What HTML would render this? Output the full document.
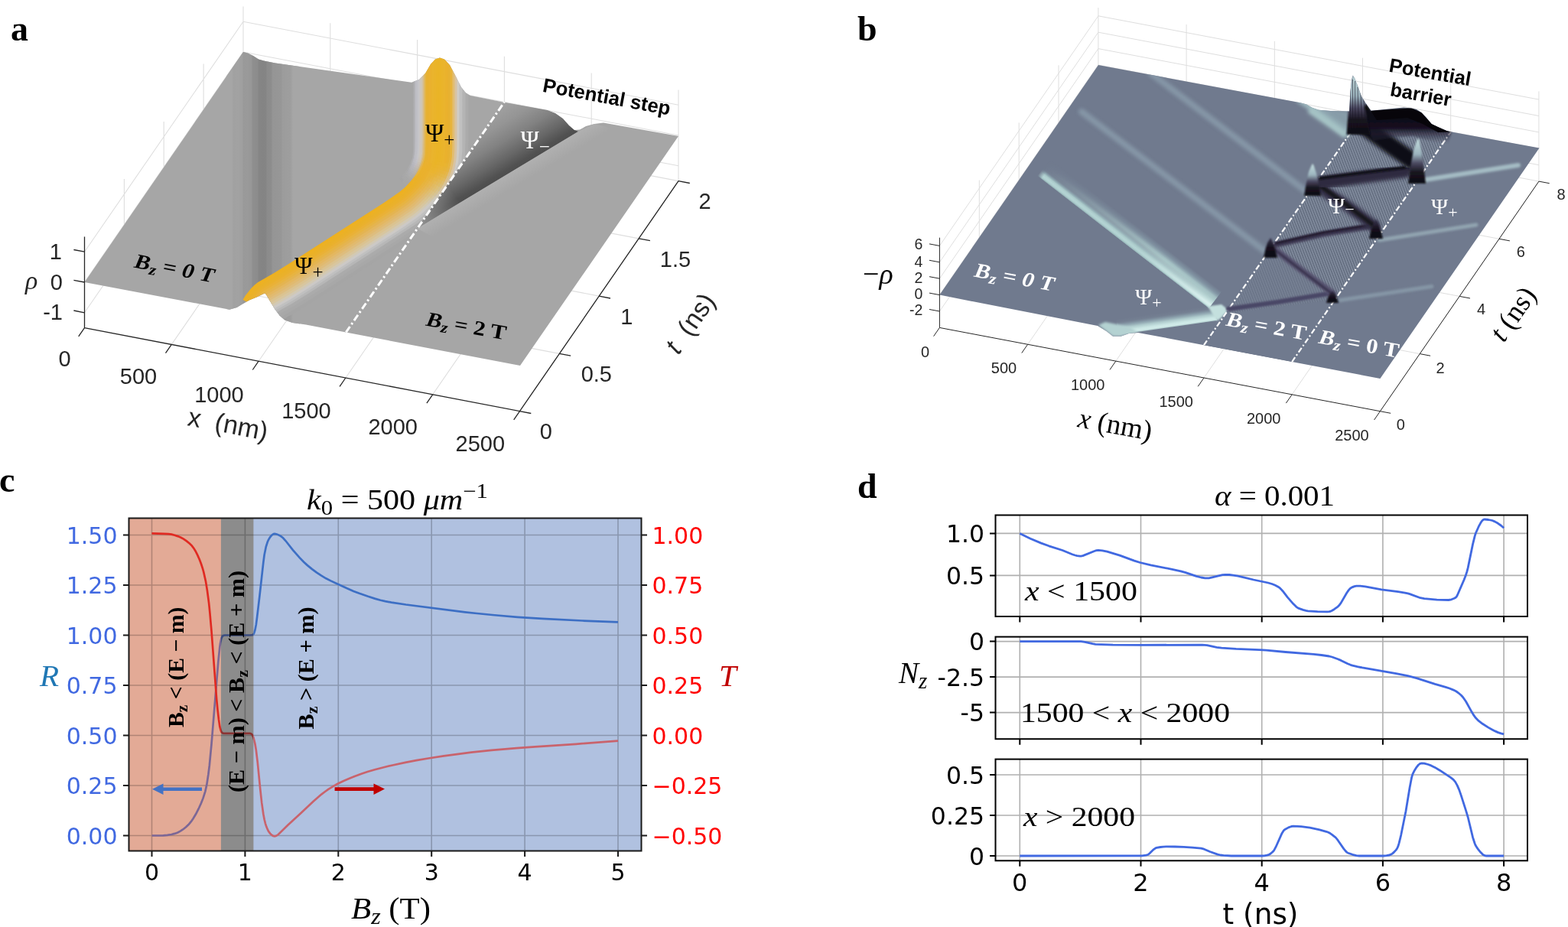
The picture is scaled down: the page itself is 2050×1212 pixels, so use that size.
<!DOCTYPE html>
<html><head><meta charset="utf-8"><title>Figure</title>
<style>html,body{margin:0;padding:0;background:#fff;}svg{display:block;}</style></head>
<body><svg xmlns="http://www.w3.org/2000/svg" width="2050" height="1212" viewBox="0 0 2050 1212">
<rect width="2050" height="1212" fill="#fff"/>
<path d="M318.0 127.6L318.0 8.4M431.8 149.4L431.8 30.2M545.6 171.2L545.6 52.0M659.4 193.0L659.4 73.8M773.2 214.8L773.2 95.6M887.0 236.6L887.0 117.4M318.0 107.8L887.0 216.8M318.0 68.0L887.0 177.0M318.0 28.2L887.0 137.2M162.4 353.4L162.4 234.1M214.2 278.1L214.2 158.9M266.1 202.9L266.1 83.6M110.5 408.8L318.0 107.8M110.5 369.0L318.0 68.0M110.5 329.2L318.0 28.2M224.3 450.4L431.8 149.4M338.1 472.2L545.6 171.2M451.9 494.0L659.4 193.0M565.7 515.8L773.2 214.8M679.5 537.6L887.0 236.6M162.4 353.4L731.4 462.4M214.2 278.1L783.2 387.1M266.1 202.9L835.1 311.9M318.0 127.6L887.0 236.6" stroke="#dedede" stroke-width="1.1" fill="none"/>
<clipPath id="aS"><path d="M318.0 68.0L324.0 69.5L331.0 73.0L338.0 77.5L345.0 79.5L360.0 82.5L538.0 107.8L548.0 104.0L556.0 96.0L563.0 84.0L569.0 77.5L575.0 75.6L581.0 77.5L588.0 85.0L596.0 100.0L603.0 114.0L609.0 121.5L615.0 125.0L660.0 134.0L715.6 144.0L726.0 148.0L736.0 155.0L744.0 164.0L751.0 170.0L758.0 169.5L766.0 165.0L777.0 162.0L789.0 160.6L887.0 178.0L680.0 478.0L400.0 424.6L382.3 422.0L372.4 418.6L365.8 412.7L359.2 404.1L352.6 392.9L348.5 386.0L346.3 383.3L342.7 385.0L336.1 388.3L326.2 392.2L317.0 397.5L309.7 402.1L300.0 404.8L110.5 369.0Z"/></clipPath>
<path d="M318.0 68.0L324.0 69.5L331.0 73.0L338.0 77.5L345.0 79.5L360.0 82.5L538.0 107.8L548.0 104.0L556.0 96.0L563.0 84.0L569.0 77.5L575.0 75.6L581.0 77.5L588.0 85.0L596.0 100.0L603.0 114.0L609.0 121.5L615.0 125.0L660.0 134.0L715.6 144.0L726.0 148.0L736.0 155.0L744.0 164.0L751.0 170.0L758.0 169.5L766.0 165.0L777.0 162.0L789.0 160.6L887.0 178.0L680.0 478.0L400.0 424.6L382.3 422.0L372.4 418.6L365.8 412.7L359.2 404.1L352.6 392.9L348.5 386.0L346.3 383.3L342.7 385.0L336.1 388.3L326.2 392.2L317.0 397.5L309.7 402.1L300.0 404.8L110.5 369.0Z" fill="#a6a6a6"/>
<g clip-path="url(#aS)">
<linearGradient id="aStr" gradientUnits="userSpaceOnUse" x1="296" y1="0" x2="392" y2="0"><stop offset="0.0000" stop-color="#a6a6a6"/><stop offset="0.0729" stop-color="#a6a6a6"/><stop offset="0.0938" stop-color="#a1a1a1"/><stop offset="0.1562" stop-color="#a2a2a2"/><stop offset="0.2188" stop-color="#9f9f9f"/><stop offset="0.2292" stop-color="#999999"/><stop offset="0.2812" stop-color="#9a9a9a"/><stop offset="0.3438" stop-color="#979797"/><stop offset="0.3542" stop-color="#8f8f8f"/><stop offset="0.4271" stop-color="#8c8c8c"/><stop offset="0.4375" stop-color="#868686"/><stop offset="0.4896" stop-color="#848484"/><stop offset="0.5417" stop-color="#858585"/><stop offset="0.5521" stop-color="#8b8b8b"/><stop offset="0.6146" stop-color="#8d8d8d"/><stop offset="0.6250" stop-color="#959595"/><stop offset="0.6875" stop-color="#969696"/><stop offset="0.7500" stop-color="#979797"/><stop offset="0.7604" stop-color="#9c9c9c"/><stop offset="0.8125" stop-color="#9d9d9d"/><stop offset="0.8750" stop-color="#9e9e9e"/><stop offset="0.9062" stop-color="#a6a6a6"/><stop offset="1.0000" stop-color="#a6a6a6"/></linearGradient>
<rect x="296" y="60" width="96" height="370" fill="url(#aStr)"/>
<linearGradient id="aDk" gradientUnits="userSpaceOnUse" x1="650" y1="236" x2="608.7" y2="167.2"><stop offset="0" stop-color="#4e4e4e"/><stop offset="0.07" stop-color="#515151"/><stop offset="0.25" stop-color="#676767"/><stop offset="0.5" stop-color="#828282"/><stop offset="0.75" stop-color="#959595"/><stop offset="1" stop-color="#a0a0a0"/></linearGradient>
<path d="M545.4 298.7L568.2 265.6L591.0 232.6L613.8 199.5L636.6 166.5L659.4 133.4L715.6 144.0L726.0 148.0L736.0 155.0L744.0 164.0L751.0 170.0L756.0 172.0L545.5 298.7Z" fill="url(#aDk)"/>
<linearGradient id="aDk3" gradientUnits="userSpaceOnUse" x1="548" y1="300" x2="600" y2="262"><stop offset="0" stop-color="#a0a0a0" stop-opacity="0.9"/><stop offset="1" stop-color="#a0a0a0" stop-opacity="0"/></linearGradient>
<path d="M545.4 298.7L568.2 265.6L591.0 232.6L613.8 199.5L636.6 166.5L659.4 133.4L715.6 144.0L726.0 148.0L736.0 155.0L744.0 164.0L751.0 170.0L756.0 172.0L545.5 298.7Z" fill="url(#aDk3)"/>
<linearGradient id="aRh" gradientUnits="userSpaceOnUse" x1="650" y1="236" x2="660" y2="252.6"><stop offset="0" stop-color="#b0b0b0"/><stop offset="1" stop-color="#a6a6a6"/></linearGradient>
<path d="M545.5 298.7L756 172L777 162L800 168L570 312Z" fill="url(#aRh)"/>
<clipPath id="aL"><path d="M0 0L721.6 43.1 L400.0 509.6 L0 600Z"/></clipPath>
<g clip-path="url(#aL)">
<path d="M522.0 233.3L525.7 229.4L527.9 231.4L524.1 235.3Z" fill="#a5a5a5"/>
<path d="M523.9 231.3L527.5 227.5L529.7 229.3L526.0 233.4Z" fill="#a5a5a8"/>
<path d="M525.7 229.4L533.2 219.7L535.7 221.2L531.4 227.4L527.9 231.4Z" fill="#a8a8a8"/>
<path d="M532.0 221.6L534.4 217.6L536.9 219.0L534.4 223.2Z" fill="#a8a8ab"/>
<path d="M533.2 219.7L535.5 215.5L538.1 216.7L535.7 221.2Z" fill="#ababab"/>
<path d="M534.4 217.6L537.6 210.9L540.3 212.0L536.9 219.0Z" fill="#ababae"/>
<path d="M536.6 213.2L538.4 208.8L541.1 209.7L539.2 214.4Z" fill="#aeaeae"/>
<path d="M537.6 210.9L539.5 204.8L540.3 195.2L540.5 60.0L543.4 60.0L543.2 195.3L542.3 205.4L540.3 212.0Z" fill="#aeaeb1"/>
<path d="M523.4 234.7L527.2 230.8L529.4 232.7L525.5 236.7Z" fill="#a5a5a5"/>
<path d="M525.4 232.7L530.7 226.8L532.9 228.6L527.5 234.7Z" fill="#a8a8a8"/>
<path d="M529.0 228.8L532.2 224.7L534.5 226.5L531.2 230.7Z" fill="#a8a8ab"/>
<path d="M530.7 226.8L533.7 222.7L536.1 224.4L532.9 228.6Z" fill="#ababab"/>
<path d="M532.2 224.7L534.9 220.8L537.4 222.2L534.5 226.5Z" fill="#ababae"/>
<path d="M533.7 222.7L536.2 218.6L538.7 220.0L536.1 224.4Z" fill="#aeaeb1"/>
<path d="M534.9 220.8L537.3 216.3L539.9 217.6L537.4 222.2Z" fill="#b1b1b4"/>
<path d="M536.2 218.6L538.4 214.0L541.1 215.2L538.7 220.0Z" fill="#b4b4b7"/>
<path d="M537.3 216.3L539.4 211.6L542.1 212.7L539.9 217.6Z" fill="#b4b4ba"/>
<path d="M538.4 214.0L540.3 209.4L543.0 210.4L541.1 215.2Z" fill="#b7b7bd"/>
<path d="M539.4 211.6L540.9 207.3L543.7 208.1L542.1 212.7Z" fill="#babac0"/>
<path d="M540.3 209.4L541.8 202.9L544.7 203.3L543.0 210.4Z" fill="#babac3"/>
<path d="M541.4 205.2L542.2 197.9L542.5 183.4L542.5 60.0L545.4 60.0L545.4 183.4L545.1 198.1L544.3 205.7Z" fill="#bdbdc3"/>
<path d="M524.8 236.1L528.7 232.1L530.8 234.1L526.9 238.2Z" fill="#a5a5a8"/>
<path d="M526.8 234.1L532.2 228.0L534.5 229.9L528.9 236.1Z" fill="#a8a8a8"/>
<path d="M530.5 230.1L533.8 225.9L536.2 227.7L532.7 232.0Z" fill="#ababab"/>
<path d="M532.2 228.0L535.3 223.9L537.7 225.5L534.5 229.9Z" fill="#ababae"/>
<path d="M533.8 225.9L536.6 221.8L539.1 223.3L536.2 227.7Z" fill="#aeaeb1"/>
<path d="M535.3 223.9L537.9 219.5L540.5 220.9L537.7 225.5Z" fill="#b1b1b4"/>
<path d="M536.6 221.8L539.1 217.2L541.7 218.5L539.1 223.3Z" fill="#b4b4b7"/>
<path d="M537.9 219.5L540.2 214.8L542.9 216.0L540.5 220.9Z" fill="#b7b4ba"/>
<path d="M539.1 217.2L541.3 212.4L544.0 213.5L541.7 218.5Z" fill="#b7b7bd"/>
<path d="M540.2 214.8L542.2 210.1L544.9 211.0L542.9 216.0Z" fill="#babac0"/>
<path d="M541.3 212.4L542.9 207.8L545.7 208.6L544.0 213.5Z" fill="#bdbdc3"/>
<path d="M542.2 210.1L543.4 205.6L546.2 206.1L544.9 211.0Z" fill="#c0bdc3"/>
<path d="M542.9 207.8L544.1 200.7L544.4 189.4L544.5 60.0L547.4 60.0L547.3 189.4L546.9 200.9L545.7 208.6Z" fill="#c0c0c6"/>
<path d="M526.3 237.5L533.8 229.3L536.0 231.1L528.3 239.6Z" fill="#a8a8a8"/>
<path d="M532.0 231.4L535.4 227.1L537.8 228.9L534.2 233.3Z" fill="#ababab"/>
<path d="M533.8 229.3L537.0 225.0L539.4 226.6L536.0 231.1Z" fill="#aeaeae"/>
<path d="M535.4 227.1L538.4 222.8L540.8 224.3L537.8 228.9Z" fill="#aeaeb1"/>
<path d="M537.0 225.0L539.7 220.5L542.2 221.9L539.4 226.6Z" fill="#b1b1b4"/>
<path d="M538.4 222.8L540.9 218.1L543.5 219.4L540.8 224.3Z" fill="#b4b4b7"/>
<path d="M539.7 220.5L542.1 215.6L544.7 216.8L542.2 221.9Z" fill="#b7b7ba"/>
<path d="M540.9 218.1L543.1 213.1L545.8 214.2L543.5 219.4Z" fill="#bdbabd"/>
<path d="M542.1 215.6L544.1 210.7L546.8 211.7L544.7 216.8Z" fill="#c0bdc3"/>
<path d="M543.1 213.1L544.8 208.3L547.6 209.1L545.8 214.2Z" fill="#c0c0c6"/>
<path d="M544.1 210.7L545.3 206.0L548.2 206.5L546.8 211.7Z" fill="#c3c3c6"/>
<path d="M544.8 208.3L545.8 203.5L548.6 203.8L547.6 209.1Z" fill="#c6c3c9"/>
<path d="M545.3 206.0L546.2 198.1L546.5 183.4L546.5 60.0L549.4 60.0L549.4 183.5L549.1 198.3L548.2 206.5Z" fill="#c6c6c9"/>
<path d="M527.7 238.9L531.6 234.8L533.8 236.8L529.7 241.0Z" fill="#a8a8a5"/>
<path d="M529.7 236.9L535.3 230.5L537.6 232.4L531.8 238.9Z" fill="#a8a8a8"/>
<path d="M533.5 232.7L537.0 228.3L539.4 230.0L535.7 234.6Z" fill="#ababab"/>
<path d="M535.3 230.5L538.7 226.1L541.1 227.7L537.6 232.4Z" fill="#aeaeab"/>
<path d="M537.0 228.3L540.1 223.8L542.6 225.3L539.4 230.0Z" fill="#b1aeae"/>
<path d="M538.7 226.1L541.4 221.5L544.0 222.8L541.1 227.7Z" fill="#b4b1b1"/>
<path d="M540.1 223.8L542.7 219.0L545.3 220.3L542.6 225.3Z" fill="#b7b4b1"/>
<path d="M541.4 221.5L543.9 216.4L546.5 217.6L544.0 222.8Z" fill="#bab7b4"/>
<path d="M542.7 219.0L545.0 213.9L547.7 215.0L545.3 220.3Z" fill="#c0bab7"/>
<path d="M543.9 216.4L545.9 211.4L548.7 212.3L546.5 217.6Z" fill="#c3bdba"/>
<path d="M545.0 213.9L546.7 208.9L549.5 209.6L547.7 215.0Z" fill="#c6c0ba"/>
<path d="M545.9 211.4L547.7 203.7L550.6 204.1L548.7 212.3Z" fill="#c9c3bd"/>
<path d="M547.3 206.3L548.0 201.0L550.9 201.3L550.2 206.9Z" fill="#c9c6c0"/>
<path d="M547.7 203.7L548.5 183.4L548.5 60.0L551.4 60.0L551.4 183.5L550.6 204.1Z" fill="#ccc6c0"/>
<path d="M529.1 240.4L533.1 236.2L535.3 238.1L531.1 242.4Z" fill="#a8a8a5"/>
<path d="M531.1 238.3L535.0 234.0L537.2 235.9L533.2 240.3Z" fill="#a8a8a8"/>
<path d="M533.1 236.2L536.9 231.8L539.2 233.6L535.3 238.1Z" fill="#aba8a8"/>
<path d="M535.0 234.0L538.6 229.5L541.0 231.2L537.2 235.9Z" fill="#ababa8"/>
<path d="M536.9 231.8L540.3 227.2L542.7 228.9L539.2 233.6Z" fill="#aeaea8"/>
<path d="M538.6 229.5L541.8 224.9L544.3 226.4L541.0 231.2Z" fill="#b1aeab"/>
<path d="M540.3 227.2L543.2 222.4L545.7 223.8L542.7 228.9Z" fill="#b7b1ab"/>
<path d="M541.8 224.9L544.5 219.9L547.1 221.1L544.3 226.4Z" fill="#bab4ae"/>
<path d="M543.2 222.4L545.7 217.3L548.4 218.5L545.7 223.8Z" fill="#bdb7ae"/>
<path d="M544.5 219.9L546.8 214.6L549.5 215.7L547.1 221.1Z" fill="#c3baae"/>
<path d="M545.7 217.3L547.8 212.0L550.6 213.0L548.4 218.5Z" fill="#c6bdb1"/>
<path d="M546.8 214.6L548.7 209.4L551.5 210.2L549.5 215.7Z" fill="#c9c0b1"/>
<path d="M547.8 212.0L549.3 206.7L552.1 207.3L550.6 213.0Z" fill="#ccc3b4"/>
<path d="M548.7 209.4L549.7 204.0L552.6 204.4L551.5 210.2Z" fill="#cfc3b4"/>
<path d="M549.3 206.7L550.2 198.3L550.5 183.5L550.5 60.0L553.4 60.0L553.4 183.5L553.1 198.5L552.1 207.3Z" fill="#cfc6b4"/>
<path d="M530.5 241.8L534.6 237.5L536.4 239.1L532.2 243.5Z" fill="#a8a5a5"/>
<path d="M532.6 239.7L536.6 235.3L538.4 236.9L534.3 241.3Z" fill="#a8a8a5"/>
<path d="M534.6 237.5L538.5 233.0L540.3 234.5L536.4 239.1Z" fill="#aba8a5"/>
<path d="M536.6 235.3L540.2 230.7L542.2 232.1L538.4 236.9Z" fill="#aea8a2"/>
<path d="M538.5 233.0L542.0 228.3L543.9 229.7L540.3 234.5Z" fill="#b1aba2"/>
<path d="M540.2 230.7L543.5 225.9L545.6 227.1L542.2 232.1Z" fill="#b4ae9f"/>
<path d="M542.0 228.3L545.0 223.4L547.1 224.5L543.9 229.7Z" fill="#baae9c"/>
<path d="M543.5 225.9L546.3 220.7L548.4 221.8L545.6 227.1Z" fill="#bdb199"/>
<path d="M545.0 223.4L547.5 218.1L549.7 219.1L547.1 224.5Z" fill="#c3b496"/>
<path d="M546.3 220.7L548.7 215.4L550.9 216.3L548.4 221.8Z" fill="#c6b796"/>
<path d="M547.5 218.1L549.7 212.7L552.0 213.4L549.7 219.1Z" fill="#ccb793"/>
<path d="M548.7 215.4L550.6 209.9L552.9 210.5L550.9 216.3Z" fill="#cfba90"/>
<path d="M549.7 212.7L551.2 207.1L553.6 207.6L552.0 213.4Z" fill="#d2bd8d"/>
<path d="M550.6 209.9L552.0 201.4L554.4 201.6L552.9 210.5Z" fill="#d5bd8d"/>
<path d="M551.7 204.3L552.2 198.4L552.5 183.5L552.5 60.0L554.9 60.0L554.9 183.5L554.6 198.6L554.1 204.6Z" fill="#d8bd8d"/>
<path d="M317.6 391.7L320.8 386.6L328.3 377.1L332.6 372.8L337.3 369.0L358.2 356.9L378.7 344.3L502.8 264.5L522.6 250.8L529.4 244.9L535.7 238.5L537.1 239.8L530.7 246.3L523.8 252.3L503.9 266.1L379.7 345.9L359.2 358.5L338.4 370.6L333.8 374.2L329.7 378.4L322.4 387.7L319.2 392.7Z" fill="#edb121"/>
<path d="M533.7 240.7L537.7 236.3L539.1 237.5L535.0 242.0Z" fill="#edb124"/>
<path d="M535.7 238.5L539.6 234.0L541.1 235.2L537.1 239.8Z" fill="#eab127"/>
<path d="M537.7 236.3L541.4 231.6L543.0 232.7L539.1 237.5Z" fill="#eab12d"/>
<path d="M539.6 234.0L543.2 229.2L544.8 230.3L541.1 235.2Z" fill="#eab430"/>
<path d="M541.4 231.6L544.8 226.7L546.4 227.6L543.0 232.7Z" fill="#e7b436"/>
<path d="M543.2 229.2L546.3 224.1L547.9 225.0L544.8 230.3Z" fill="#e7b43f"/>
<path d="M544.8 226.7L547.6 221.4L549.3 222.2L546.4 227.6Z" fill="#e4b445"/>
<path d="M546.3 224.1L548.9 218.7L550.6 219.5L547.9 225.0Z" fill="#e4b74e"/>
<path d="M547.6 221.4L550.1 215.9L551.9 216.7L549.3 222.2Z" fill="#e1b757"/>
<path d="M548.9 218.7L551.1 213.2L552.9 213.8L550.6 219.5Z" fill="#e1b75d"/>
<path d="M550.1 215.9L552.0 210.3L553.9 210.8L551.9 216.7Z" fill="#deb763"/>
<path d="M551.1 213.2L552.7 207.4L554.6 207.8L552.9 213.8Z" fill="#deb769"/>
<path d="M552.0 210.3L553.2 204.5L555.1 204.7L553.9 210.8Z" fill="#deba6f"/>
<path d="M552.7 207.4L553.7 198.5L554.0 183.5L554.0 60.0L555.9 60.0L555.9 183.5L555.6 198.6L554.6 207.8Z" fill="#dbba6f"/>
<path d="M318.4 392.3L321.6 387.2L329.0 377.8L333.2 373.5L337.9 369.8L358.7 357.8L379.2 345.1L503.4 265.3L520.9 253.5L527.9 247.7L534.4 241.4L536.1 243.1L529.5 249.5L522.3 255.4L504.7 267.3L380.5 347.2L359.9 359.8L339.2 371.8L334.8 375.3L330.9 379.3L323.6 388.6L320.5 393.5Z" fill="#edb121"/>
<path d="M532.3 243.5L538.5 236.9L540.3 238.5L533.9 245.2Z" fill="#edb124"/>
<path d="M536.4 239.2L540.4 234.6L542.3 236.1L538.2 240.8Z" fill="#edb127"/>
<path d="M538.5 236.9L542.2 232.2L544.2 233.6L540.3 238.5Z" fill="#eab12a"/>
<path d="M540.4 234.6L544.0 229.8L546.0 231.1L542.3 236.1Z" fill="#eab12d"/>
<path d="M542.2 232.2L545.7 227.2L547.7 228.4L544.2 233.6Z" fill="#eab130"/>
<path d="M544.0 229.8L547.2 224.5L549.3 225.7L546.0 231.1Z" fill="#e7b436"/>
<path d="M545.7 227.2L548.5 221.8L550.7 222.9L547.7 228.4Z" fill="#e7b43c"/>
<path d="M547.2 224.5L549.8 219.1L552.0 220.1L549.3 225.7Z" fill="#e7b43f"/>
<path d="M548.5 221.8L551.0 216.3L553.2 217.2L550.7 222.9Z" fill="#e4b445"/>
<path d="M549.8 219.1L552.1 213.5L554.4 214.3L552.0 220.1Z" fill="#e4b44b"/>
<path d="M551.0 216.3L553.0 210.6L555.3 211.2L553.2 217.2Z" fill="#e4b44e"/>
<path d="M552.1 213.5L553.7 207.6L556.0 208.1L554.4 214.3Z" fill="#e1b751"/>
<path d="M553.0 210.6L554.2 204.6L556.6 204.9L555.3 211.2Z" fill="#e1b754"/>
<path d="M553.7 207.6L554.7 198.6L555.0 183.5L555.0 60.0L557.4 60.0L557.3 189.5L556.9 201.8L556.0 208.1Z" fill="#e1b757"/>
<path d="M319.7 393.0L322.9 388.1L330.2 378.8L334.2 374.6L338.7 371.1L359.5 359.1L380.0 346.4L511.8 261.6L526.6 250.9L535.5 242.4L541.6 235.5L543.8 237.4L537.5 244.4L528.4 253.1L513.4 264.0L381.6 348.9L360.9 361.6L340.3 373.5L336.2 376.8L332.4 380.7L325.2 389.8L322.2 394.5Z" fill="#edb124"/>
<path d="M539.6 237.9L543.4 233.1L545.8 234.8L541.8 239.8Z" fill="#edb127"/>
<path d="M541.6 235.5L546.9 228.0L549.4 229.4L543.8 237.4Z" fill="#eab127"/>
<path d="M545.3 230.6L549.9 222.5L552.5 223.8L547.7 232.2Z" fill="#eab12a"/>
<path d="M548.5 225.3L552.4 216.9L555.1 218.0L551.0 226.6Z" fill="#eab12d"/>
<path d="M551.2 219.7L554.4 211.0L557.2 211.7L553.8 220.9Z" fill="#eab130"/>
<path d="M553.5 214.0L555.2 207.9L558.0 208.5L556.3 214.9Z" fill="#e7b130"/>
<path d="M554.4 211.0L556.0 201.7L556.4 189.5L556.5 60.0L559.4 60.0L559.3 189.6L558.9 202.0L557.2 211.7Z" fill="#e7b133"/>
<path d="M321.4 394.1L324.5 389.3L331.7 380.1L335.6 376.1L339.8 372.7L360.5 360.8L381.1 348.1L512.9 263.3L523.0 256.3L530.2 250.3L539.0 241.6L545.0 234.3L547.4 236.0L541.2 243.5L532.2 252.5L524.7 258.6L514.5 265.7L382.7 350.5L361.9 363.3L341.4 375.1L333.9 382.0L326.9 390.9L323.9 395.6Z" fill="#eab127"/>
<path d="M543.1 236.8L546.9 231.7L550.2 226.2L552.8 227.6L549.3 233.3L545.4 238.6Z" fill="#eab12a"/>
<path d="M548.7 229.0L551.7 223.4L555.4 214.6L558.1 215.6L554.3 224.7L551.1 230.5Z" fill="#eab12d"/>
<path d="M554.3 217.6L557.1 208.3L560.0 208.8L557.0 218.7Z" fill="#eab130"/>
<path d="M556.4 211.5L558.0 201.9L558.4 189.6L558.5 60.0L561.4 60.0L561.3 189.6L560.9 202.2L559.2 212.3Z" fill="#e7b130"/>
<path d="M323.1 395.1L326.1 390.4L333.2 381.4L336.9 377.6L340.9 374.4L361.5 362.5L382.2 349.8L496.3 276.5L524.2 257.9L531.5 251.8L540.5 242.9L544.7 238.0L550.4 230.0L552.9 231.5L549.0 237.2L542.7 244.9L533.5 253.9L525.9 260.2L497.9 279.0L383.7 352.2L363.0 365.0L342.5 376.8L335.4 383.3L328.5 392.1L325.6 396.6Z" fill="#eab12a"/>
<path d="M548.6 232.8L554.8 221.4L558.3 212.0L561.1 212.8L557.5 222.5L551.0 234.5Z" fill="#eab12d"/>
<path d="M557.3 215.3L559.6 205.4L560.3 195.7L560.5 60.0L563.4 60.0L563.2 195.8L562.5 205.8L560.0 216.2Z" fill="#eab130"/>
<path d="M324.9 396.1L327.8 391.6L334.7 382.7L342.0 376.1L362.5 364.2L383.3 351.5L520.2 263.2L527.9 257.5L535.2 251.1L544.1 241.8L550.2 234.0L555.3 225.2L559.2 215.9L561.0 209.1L562.0 202.3L562.5 177.5L562.5 60.0L565.4 60.0L565.4 180.5L564.9 202.5L563.9 209.6L561.9 216.9L557.9 226.4L552.6 235.6L548.5 241.1L541.9 248.6L534.8 255.4L527.1 261.8L498.9 280.6L384.8 353.9L364.0 366.7L343.6 378.5L336.9 384.6L330.1 393.3L327.3 397.6Z" fill="#eab12d"/>
<path d="M326.6 397.1L329.4 392.7L336.2 384.0L343.1 377.7L363.5 366.0L384.3 353.2L516.2 268.3L526.6 261.1L531.7 257.0L539.0 250.3L545.6 243.1L548.6 245.7L541.7 253.0L534.3 259.9L528.9 264.2L518.4 271.5L386.4 356.5L365.5 369.3L345.3 381.0L339.2 386.6L332.6 395.0L329.9 399.2Z" fill="#eab136"/>
<path d="M543.5 245.6L549.9 237.9L553.8 232.1L557.1 234.1L553.0 240.2L546.3 248.2Z" fill="#eab133"/>
<path d="M551.9 235.1L555.5 229.1L559.8 219.9L563.4 221.3L558.9 230.9L555.1 237.3Z" fill="#eab130"/>
<path d="M558.5 223.0L561.1 216.6L563.0 209.5L566.8 210.2L564.8 217.8L562.0 224.6Z" fill="#eab12d"/>
<path d="M562.2 213.1L564.0 202.4L564.4 189.6L564.5 60.0L568.4 60.0L568.3 192.8L567.9 202.8L565.9 214.1Z" fill="#eab42d"/>
<path d="M329.1 398.7L331.8 394.5L338.5 386.0L344.8 380.2L365.0 368.6L385.9 355.7L517.9 270.7L528.4 263.5L533.7 259.2L543.4 250.1L550.2 242.4L553.2 244.9L546.2 252.8L536.2 262.2L530.7 266.6L520.0 274.0L388.0 359.0L367.0 371.9L346.9 383.5L341.4 388.5L335.0 396.8L332.5 400.7Z" fill="#e7b442"/>
<path d="M547.9 245.1L554.4 236.8L557.6 239.0L550.9 247.6Z" fill="#e7b43f"/>
<path d="M552.3 239.7L556.4 233.6L559.7 235.6L555.4 242.0Z" fill="#e7b43c"/>
<path d="M554.4 236.8L558.1 230.5L561.6 232.3L557.6 239.0Z" fill="#e7b439"/>
<path d="M556.4 233.6L559.8 227.4L563.3 229.1L559.7 235.6Z" fill="#eab436"/>
<path d="M558.1 230.5L562.6 221.0L566.2 222.5L561.6 232.3Z" fill="#eab433"/>
<path d="M561.2 224.2L563.9 217.6L567.6 218.8L564.8 225.8Z" fill="#eab430"/>
<path d="M562.6 221.0L565.1 213.8L568.8 214.9L566.2 222.5Z" fill="#eab42d"/>
<path d="M563.9 217.6L566.6 206.3L567.3 195.9L567.5 60.0L571.4 60.0L571.2 196.0L570.4 206.8L567.6 218.8Z" fill="#eab42a"/>
<path d="M331.7 400.2L334.3 396.2L340.7 387.9L346.4 382.7L366.5 371.1L387.5 358.2L519.5 273.2L530.2 265.9L535.6 261.5L547.9 249.6L550.8 252.3L538.2 264.5L532.5 269.0L521.7 276.5L389.6 361.5L368.5 374.5L348.6 386.0L343.7 390.5L337.4 398.5L335.1 402.2Z" fill="#e4b451"/>
<path d="M545.5 252.1L550.2 247.1L553.1 249.6L548.4 254.8Z" fill="#e4b44e"/>
<path d="M547.9 249.6L552.5 244.3L555.5 246.7L550.8 252.3Z" fill="#e7b44e"/>
<path d="M550.2 247.1L554.7 241.5L557.8 243.8L553.1 249.6Z" fill="#e7b44b"/>
<path d="M552.5 244.3L556.9 238.5L560.1 240.6L555.5 246.7Z" fill="#e7b448"/>
<path d="M554.7 241.5L558.9 235.1L562.3 237.2L557.8 243.8Z" fill="#e7b445"/>
<path d="M556.9 238.5L560.8 231.9L564.2 233.8L560.1 240.6Z" fill="#e7b442"/>
<path d="M558.9 235.1L562.4 228.7L565.9 230.4L562.3 237.2Z" fill="#e7b43c"/>
<path d="M560.8 231.9L564.0 225.5L567.5 227.1L564.2 233.8Z" fill="#e7b439"/>
<path d="M562.4 228.7L565.4 222.1L569.0 223.6L565.9 230.4Z" fill="#eab436"/>
<path d="M564.0 225.5L566.7 218.5L570.4 219.8L567.5 227.1Z" fill="#eab430"/>
<path d="M565.4 222.1L568.0 214.6L571.7 215.7L569.0 223.6Z" fill="#eab42d"/>
<path d="M566.7 218.5L568.9 210.6L572.7 211.4L570.4 219.8Z" fill="#eab42a"/>
<path d="M568.0 214.6L569.9 203.0L570.4 192.8L570.5 60.0L574.4 60.0L574.3 192.9L573.4 207.2L571.7 215.7Z" fill="#eab427"/>
<path d="M334.3 401.8L336.7 398.0L343.0 389.9L348.1 385.2L368.1 373.7L389.1 360.8L513.5 280.8L532.0 268.3L540.3 261.4L547.7 254.2L550.5 256.9L542.9 264.3L534.3 271.4L515.7 284.1L391.2 364.1L370.0 377.1L350.2 388.5L345.9 392.5L337.6 403.8Z" fill="#e4b760"/>
<path d="M545.3 256.7L552.5 249.0L555.4 251.6L548.1 259.4Z" fill="#e4b75d"/>
<path d="M550.1 251.7L554.8 246.2L557.9 248.6L553.0 254.3Z" fill="#e4b75a"/>
<path d="M552.5 249.0L557.1 243.3L560.2 245.6L555.4 251.6Z" fill="#e4b757"/>
<path d="M554.8 246.2L559.3 240.1L562.6 242.3L557.9 248.6Z" fill="#e4b754"/>
<path d="M557.1 243.3L561.5 236.7L564.9 238.7L560.2 245.6Z" fill="#e4b74e"/>
<path d="M559.3 240.1L563.4 233.3L566.9 235.2L562.6 242.3Z" fill="#e7b74b"/>
<path d="M561.5 236.7L565.1 230.0L568.6 231.7L564.9 238.7Z" fill="#e7b445"/>
<path d="M563.4 233.3L566.7 226.7L570.3 228.3L566.9 235.2Z" fill="#e7b43f"/>
<path d="M565.1 230.0L568.2 223.2L571.8 224.7L568.6 231.7Z" fill="#e7b439"/>
<path d="M566.7 226.7L569.6 219.5L573.3 220.8L570.3 228.3Z" fill="#eab433"/>
<path d="M568.2 223.2L570.9 215.4L574.6 216.4L571.8 224.7Z" fill="#eab430"/>
<path d="M569.6 219.5L571.8 211.2L575.7 212.0L573.3 220.8Z" fill="#eab42d"/>
<path d="M570.9 215.4L572.5 207.1L576.4 207.7L574.6 216.4Z" fill="#eab42a"/>
<path d="M571.8 211.2L572.9 203.2L573.4 189.7L573.5 60.0L577.4 60.0L577.3 189.8L576.8 203.6L575.7 212.0Z" fill="#eab427"/>
<path d="M336.9 403.3L345.3 391.9L349.7 387.7L369.6 376.3L390.7 363.3L515.2 283.3L533.8 270.7L542.3 263.7L549.9 256.3L552.7 259.0L544.9 266.6L536.1 273.8L517.3 286.6L392.8 366.6L371.5 379.7L351.9 391.0L348.2 394.4L340.2 405.3Z" fill="#e1ba6f"/>
<path d="M547.4 258.8L554.7 251.0L557.7 253.5L550.2 261.5Z" fill="#e1ba6c"/>
<path d="M552.3 253.7L557.2 248.1L560.2 250.5L555.2 256.3Z" fill="#e1ba69"/>
<path d="M554.7 251.0L559.5 245.1L562.6 247.4L557.7 253.5Z" fill="#e1ba63"/>
<path d="M557.2 248.1L561.8 241.8L565.0 244.0L560.2 250.5Z" fill="#e1b760"/>
<path d="M559.5 245.1L564.1 238.2L567.4 240.2L562.6 247.4Z" fill="#e4b75a"/>
<path d="M561.8 241.8L566.1 234.8L569.5 236.6L565.0 244.0Z" fill="#e4b754"/>
<path d="M564.1 238.2L567.8 231.3L571.3 233.0L567.4 240.2Z" fill="#e4b74e"/>
<path d="M566.1 234.8L569.4 227.9L573.0 229.5L569.5 236.6Z" fill="#e7b748"/>
<path d="M567.8 231.3L571.0 224.4L574.6 225.8L571.3 233.0Z" fill="#e7b43f"/>
<path d="M569.4 227.9L572.4 220.5L576.1 221.8L573.0 229.5Z" fill="#e7b439"/>
<path d="M571.0 224.4L573.7 216.2L577.5 217.2L574.6 225.8Z" fill="#eab433"/>
<path d="M572.4 220.5L574.8 211.8L578.6 212.5L576.1 221.8Z" fill="#eab430"/>
<path d="M573.7 216.2L575.5 207.5L579.3 208.1L577.5 217.2Z" fill="#eab42d"/>
<path d="M574.8 211.8L575.9 203.5L576.4 189.8L576.5 60.0L580.4 60.0L580.3 189.8L579.8 203.8L578.6 212.5Z" fill="#eab42a"/>
<path d="M339.4 404.9L347.5 393.9L351.4 390.2L371.1 378.9L392.4 365.8L524.5 280.7L535.6 273.1L541.5 268.4L554.5 255.7L557.4 258.3L544.0 271.4L537.9 276.2L526.7 284.0L394.4 369.1L373.1 382.3L353.6 393.5L350.5 396.4L342.8 406.9Z" fill="#debd7e"/>
<path d="M552.0 258.4L557.0 252.9L559.9 255.5L554.8 261.1Z" fill="#debd7b"/>
<path d="M554.5 255.7L559.5 249.9L562.6 252.4L557.4 258.3Z" fill="#debd78"/>
<path d="M557.0 252.9L561.9 246.9L565.0 249.2L559.9 255.5Z" fill="#debd72"/>
<path d="M559.5 249.9L564.3 243.5L567.5 245.7L562.6 252.4Z" fill="#e1bd6c"/>
<path d="M561.9 246.9L566.7 239.8L570.0 241.8L565.0 249.2Z" fill="#e1ba66"/>
<path d="M564.3 243.5L568.7 236.2L572.1 238.1L567.5 245.7Z" fill="#e1ba60"/>
<path d="M566.7 239.8L570.5 232.6L574.0 234.4L570.0 241.8Z" fill="#e4ba57"/>
<path d="M568.7 236.2L572.2 229.1L575.7 230.7L572.1 238.1Z" fill="#e4b74e"/>
<path d="M570.5 232.6L573.7 225.5L577.4 226.9L574.0 234.4Z" fill="#e7b748"/>
<path d="M572.2 229.1L575.3 221.5L578.9 222.7L575.7 230.7Z" fill="#e7b43f"/>
<path d="M573.7 225.5L576.6 217.0L580.4 218.0L577.4 226.9Z" fill="#e7b439"/>
<path d="M575.3 221.5L577.7 212.4L581.5 213.1L578.9 222.7Z" fill="#eab433"/>
<path d="M576.6 217.0L578.4 207.9L579.3 196.2L579.5 60.0L583.4 60.0L583.2 196.3L582.3 208.5L580.4 218.0Z" fill="#eab42d"/>
<path d="M342.0 406.4L349.8 395.8L353.1 392.7L372.6 381.5L394.0 368.4L518.5 288.3L537.4 275.5L546.3 268.1L554.2 260.5L557.0 263.2L548.9 271.0L539.7 278.6L520.6 291.6L396.0 371.7L374.6 384.9L355.2 396.0L352.7 398.4L345.4 408.4Z" fill="#dbc390"/>
<path d="M551.7 263.0L556.8 257.7L559.6 260.4L554.4 265.8Z" fill="#dbc38d"/>
<path d="M554.2 260.5L559.3 254.9L562.2 257.4L557.0 263.2Z" fill="#dbc38a"/>
<path d="M556.8 257.7L561.9 251.8L564.9 254.3L559.6 260.4Z" fill="#dbc087"/>
<path d="M559.3 254.9L564.3 248.7L567.4 251.0L562.2 257.4Z" fill="#dbc081"/>
<path d="M561.9 251.8L566.8 245.2L570.0 247.4L564.9 254.3Z" fill="#dec07b"/>
<path d="M564.3 248.7L569.2 241.3L572.6 243.3L567.4 251.0Z" fill="#debd72"/>
<path d="M566.8 245.2L571.3 237.6L574.8 239.5L570.0 247.4Z" fill="#e1bd69"/>
<path d="M569.2 241.3L573.2 234.0L576.7 235.7L572.6 243.3Z" fill="#e1ba60"/>
<path d="M571.3 237.6L574.9 230.4L578.5 232.0L574.8 239.5Z" fill="#e4ba57"/>
<path d="M573.2 234.0L576.5 226.6L580.1 228.1L576.7 235.7Z" fill="#e4b74e"/>
<path d="M574.9 230.4L578.1 222.4L581.8 223.7L578.5 232.0Z" fill="#e4b745"/>
<path d="M576.5 226.6L579.5 217.8L583.3 218.8L580.1 228.1Z" fill="#e7b43c"/>
<path d="M578.1 222.4L580.7 212.9L584.5 213.7L581.8 223.7Z" fill="#e7b436"/>
<path d="M579.5 217.8L581.4 208.3L585.3 208.9L583.3 218.8Z" fill="#eab430"/>
<path d="M580.7 212.9L581.9 204.0L582.4 189.9L582.5 60.0L586.4 60.0L586.3 189.9L585.8 204.4L584.5 213.7Z" fill="#eab12d"/>
<path d="M344.6 407.9L352.1 397.8L354.7 395.2L374.1 384.1L395.6 370.9L520.1 290.8L539.2 277.9L548.3 270.3L556.4 262.5L559.2 265.2L550.9 273.2L541.5 281.0L522.3 294.1L397.7 374.2L376.1 387.5L356.9 398.5L350.8 405.7L347.9 410.0Z" fill="#d8c69f"/>
<path d="M553.8 265.2L559.0 259.8L561.9 262.4L556.5 267.9Z" fill="#d8c69c"/>
<path d="M556.4 262.5L561.5 256.9L564.5 259.4L559.2 265.2Z" fill="#d8c699"/>
<path d="M559.0 259.8L564.2 253.7L567.2 256.1L561.9 262.4Z" fill="#d8c696"/>
<path d="M561.5 256.9L566.7 250.4L569.8 252.8L564.5 259.4Z" fill="#d8c390"/>
<path d="M564.2 253.7L569.3 246.9L572.5 249.1L567.2 256.1Z" fill="#dbc387"/>
<path d="M566.7 250.4L571.8 242.9L575.2 244.9L569.8 252.8Z" fill="#dbc07e"/>
<path d="M569.3 246.9L574.0 239.1L577.4 240.9L572.5 249.1Z" fill="#dec075"/>
<path d="M571.8 242.9L575.9 235.3L579.4 237.0L575.2 244.9Z" fill="#debd69"/>
<path d="M574.0 239.1L577.6 231.6L581.2 233.2L577.4 240.9Z" fill="#e1ba60"/>
<path d="M575.9 235.3L579.3 227.7L582.9 229.2L579.4 237.0Z" fill="#e4ba54"/>
<path d="M577.6 231.6L580.9 223.4L584.6 224.7L581.2 233.2Z" fill="#e4b74b"/>
<path d="M579.3 227.7L582.4 218.6L586.2 219.6L582.9 229.2Z" fill="#e7b442"/>
<path d="M580.9 223.4L583.6 213.5L587.4 214.3L584.6 224.7Z" fill="#e7b439"/>
<path d="M582.4 218.6L584.4 208.8L588.3 209.3L586.2 219.6Z" fill="#e7b433"/>
<path d="M583.6 213.5L584.9 204.3L585.4 189.9L585.5 60.0L589.4 60.0L589.3 189.9L588.8 204.6L587.4 214.3Z" fill="#e7b130"/>
<path d="M347.2 409.5L351.6 403.2L356.4 397.7L375.6 386.7L397.2 373.4L521.8 293.3L541.0 280.3L547.3 275.2L555.9 267.3L558.6 270.0L549.8 278.2L543.3 283.4L523.9 296.6L399.3 376.7L377.6 390.0L358.5 401.0L350.5 411.5Z" fill="#d2c9b4"/>
<path d="M553.1 270.0L561.2 261.8L564.1 264.4L555.8 272.8Z" fill="#d2c9b1"/>
<path d="M558.5 264.6L563.8 258.8L566.8 261.4L561.3 267.3Z" fill="#d2c6ae"/>
<path d="M561.2 261.8L566.5 255.6L569.6 258.0L564.1 264.4Z" fill="#d2c6a8"/>
<path d="M563.8 258.8L569.1 252.2L572.2 254.6L566.8 261.4Z" fill="#d5c6a2"/>
<path d="M566.5 255.6L571.7 248.6L575.0 250.8L569.6 258.0Z" fill="#d5c399"/>
<path d="M569.1 252.2L574.4 244.4L577.7 246.4L572.2 254.6Z" fill="#d8c390"/>
<path d="M571.7 248.6L576.6 240.5L580.0 242.3L575.0 250.8Z" fill="#d8c084"/>
<path d="M574.4 244.4L578.6 236.6L582.1 238.3L577.7 246.4Z" fill="#dbbd7b"/>
<path d="M576.6 240.5L580.4 232.8L583.9 234.4L580.0 242.3Z" fill="#debd6f"/>
<path d="M578.6 236.6L582.1 228.9L585.7 230.3L582.1 238.3Z" fill="#e1ba63"/>
<path d="M580.4 232.8L583.8 224.4L587.4 225.7L583.9 234.4Z" fill="#e1b757"/>
<path d="M582.1 228.9L585.3 219.3L589.1 220.4L585.7 230.3Z" fill="#e4b74e"/>
<path d="M583.8 224.4L586.5 214.1L590.4 214.9L587.4 225.7Z" fill="#e4b445"/>
<path d="M585.3 219.3L587.4 209.2L591.2 209.7L589.1 220.4Z" fill="#e7b43f"/>
<path d="M586.5 214.1L587.9 204.6L588.4 189.9L588.5 60.0L592.4 60.0L592.3 190.0L591.8 204.9L590.4 214.9Z" fill="#e7b43c"/>
<path d="M349.7 411.0L352.4 407.0L358.0 400.2L377.2 389.3L398.8 376.0L531.2 290.7L542.8 282.7L549.2 277.5L563.4 263.8L566.3 266.4L551.7 280.5L538.8 290.3L400.9 379.3L379.1 392.6L360.7 403.1L353.1 413.0Z" fill="#ccc9c6"/>
<path d="M560.7 266.7L566.1 260.8L569.0 263.3L563.5 269.4Z" fill="#ccc9c3"/>
<path d="M563.4 263.8L568.9 257.4L571.9 259.9L566.3 266.4Z" fill="#ccc9c0"/>
<path d="M566.1 260.8L571.5 254.0L574.6 256.4L569.0 263.3Z" fill="#cfc9ba"/>
<path d="M568.9 257.4L574.2 250.3L577.5 252.4L571.9 259.9Z" fill="#cfc6b4"/>
<path d="M571.5 254.0L577.0 245.9L580.3 248.0L574.6 256.4Z" fill="#d2c6ae"/>
<path d="M574.2 250.3L579.3 241.9L582.7 243.8L577.5 252.4Z" fill="#d2c3a8"/>
<path d="M577.0 245.9L581.3 237.9L584.8 239.7L580.3 248.0Z" fill="#d5c39f"/>
<path d="M579.3 241.9L583.1 234.1L586.7 235.7L582.7 243.8Z" fill="#d8c396"/>
<path d="M581.3 237.9L584.9 230.0L588.5 231.4L584.8 239.7Z" fill="#dbc08d"/>
<path d="M583.1 234.1L586.6 225.4L590.3 226.7L586.7 235.7Z" fill="#dbc087"/>
<path d="M584.9 230.0L588.2 220.1L592.0 221.2L588.5 231.4Z" fill="#debd7e"/>
<path d="M586.6 225.4L589.5 214.7L593.3 215.4L590.3 226.7Z" fill="#debd78"/>
<path d="M588.2 220.1L590.3 209.6L594.2 210.1L592.0 221.2Z" fill="#e1bd75"/>
<path d="M589.5 214.7L590.9 204.8L591.4 190.0L591.5 60.0L595.4 60.0L595.3 190.0L594.8 205.2L593.3 215.4Z" fill="#e1bd72"/>
<path d="M352.3 412.6L354.8 408.8L360.1 402.4L378.7 391.9L400.4 378.5L525.1 298.4L544.6 285.1L551.2 279.8L560.1 271.5L562.9 274.3L553.7 282.8L546.9 288.2L527.2 301.6L402.5 381.8L380.6 395.2L362.6 405.5L355.6 414.6Z" fill="#c0c0c0"/>
<path d="M557.2 274.4L565.6 265.8L571.2 259.3L574.3 261.8L568.5 268.4L559.9 277.2Z" fill="#c3c3c0"/>
<path d="M568.4 262.7L573.9 255.8L577.0 258.2L571.3 265.3Z" fill="#c6c3bd"/>
<path d="M571.2 259.3L576.7 251.9L579.9 254.1L574.3 261.8Z" fill="#c6c3ba"/>
<path d="M573.9 255.8L579.5 247.5L582.9 249.5L577.0 258.2Z" fill="#c9c3b7"/>
<path d="M576.7 251.9L581.9 243.3L585.3 245.2L579.9 254.1Z" fill="#c9c3b4"/>
<path d="M579.5 247.5L584.0 239.3L587.5 241.0L582.9 249.5Z" fill="#ccc3b1"/>
<path d="M581.9 243.3L585.9 235.3L589.4 236.9L585.3 245.2Z" fill="#cfc3ae"/>
<path d="M584.0 239.3L587.6 231.1L591.3 232.6L587.5 241.0Z" fill="#d2c3ab"/>
<path d="M585.9 235.3L589.4 226.4L593.1 227.6L589.4 236.9Z" fill="#d2c3a8"/>
<path d="M587.6 231.1L591.1 220.9L594.9 221.9L591.3 232.6Z" fill="#d5c3a5"/>
<path d="M589.4 226.4L591.1 220.9L593.3 210.0L594.3 196.5L594.5 60.0L598.4 60.0L598.2 196.6L597.2 210.5L594.9 221.9L593.1 227.6Z" fill="#d8c3a2"/>
<path d="M354.9 414.1L362.0 404.8L380.2 394.4L402.0 381.0L540.0 292.0L546.4 287.5L556.3 279.3L565.0 270.9L570.6 264.7L573.6 267.2L567.8 273.6L559.0 282.1L548.7 290.6L542.2 295.2L404.1 384.3L382.2 397.8L364.4 407.8L358.2 416.1Z" fill="#b7b7b7"/>
<path d="M567.8 267.8L576.3 257.6L579.4 260.0L570.7 270.5Z" fill="#bababa"/>
<path d="M573.6 261.2L579.2 253.6L582.4 255.8L576.6 263.6Z" fill="#bdbaba"/>
<path d="M576.3 257.6L582.1 249.0L585.4 251.0L579.4 260.0Z" fill="#bdbdbd"/>
<path d="M579.2 253.6L584.5 244.8L588.0 246.6L582.4 255.8Z" fill="#c0c0bd"/>
<path d="M582.1 249.0L586.7 240.6L590.2 242.3L585.4 251.0Z" fill="#c3c0bd"/>
<path d="M584.5 244.8L588.6 236.5L592.2 238.1L588.0 246.6Z" fill="#c3c3c0"/>
<path d="M586.7 240.6L590.4 232.2L594.0 233.7L590.2 242.3Z" fill="#c6c3c0"/>
<path d="M588.6 236.5L592.3 227.3L596.0 228.6L592.2 238.1Z" fill="#c9c6c3"/>
<path d="M590.4 232.2L594.0 221.7L597.8 222.7L594.0 233.7Z" fill="#c9c9c3"/>
<path d="M592.3 227.3L594.0 221.7L596.3 210.4L600.1 210.9L597.8 222.7L596.0 228.6Z" fill="#ccc9c6"/>
<path d="M595.4 215.8L596.8 205.4L597.4 190.0L597.5 60.0L601.4 60.0L601.3 190.1L600.7 205.7L599.2 216.6Z" fill="#cfccc6"/>
<path d="M357.4 415.7L363.9 407.1L381.7 397.0L403.6 383.6L541.7 294.5L548.2 289.9L558.3 281.5L567.2 272.9L572.9 266.7L576.6 269.9L570.7 276.3L561.6 285.1L551.1 293.8L544.4 298.5L406.2 387.7L384.2 401.3L367.2 410.7L361.6 418.2Z" fill="#ababab"/>
<path d="M570.1 269.9L578.7 259.4L582.6 262.4L573.7 273.2Z" fill="#aeaeae"/>
<path d="M575.9 263.1L584.7 250.6L588.9 253.1L579.7 266.1Z" fill="#b1b1b1"/>
<path d="M581.7 255.3L589.4 241.9L593.8 244.1L585.7 258.1Z" fill="#b4b4b4"/>
<path d="M587.2 246.2L591.3 237.7L595.8 239.7L591.5 248.5Z" fill="#b7b7b7"/>
<path d="M589.4 241.9L595.1 228.3L599.7 229.9L593.8 244.1Z" fill="#bababa"/>
<path d="M593.2 233.3L596.9 222.5L598.3 216.4L603.1 217.4L601.6 223.8L597.8 235.2Z" fill="#bdbdbd"/>
<path d="M596.9 222.5L599.3 210.8L600.3 196.7L600.5 60.0L605.4 60.0L605.2 196.8L604.1 211.5L601.6 223.8Z" fill="#c0c0c0"/>
<path d="M360.9 417.7L366.6 410.0L383.7 400.5L405.7 387.0L520.2 313.5L546.9 295.7L557.6 287.4L564.1 281.6L573.0 272.6L581.9 261.8L585.8 264.7L576.6 275.9L567.5 285.2L560.8 291.2L549.7 299.7L522.9 317.6L408.4 391.1L386.2 404.7L367.9 415.2L370.1 413.5L365.1 420.2Z" fill="#a8a8a8"/>
<path d="M579.0 265.6L585.0 257.6L590.7 248.1L595.0 250.4L589.0 260.3L582.8 268.6Z" fill="#ababab"/>
<path d="M588.1 252.6L595.0 239.4L599.5 241.4L592.3 255.2Z" fill="#aeaeae"/>
<path d="M593.0 243.7L596.9 234.8L600.8 223.5L605.5 224.8L601.5 236.7L597.4 245.8Z" fill="#b1b1b1"/>
<path d="M598.9 229.6L600.8 223.5L603.2 211.3L604.3 196.8L604.5 60.0L609.4 60.0L609.2 196.9L608.1 212.0L605.5 224.8L603.5 231.2Z" fill="#b4b4b4"/>
<path d="M364.3 419.8L369.4 412.9L367.5 414.5L385.8 403.9L407.9 390.3L543.4 303.0L553.0 296.3L560.2 290.5L572.9 278.5L575.8 281.3L562.8 293.5L555.4 299.5L542.9 308.2L410.0 393.7L387.8 407.4L369.5 417.9L372.4 415.5L367.7 421.8Z" fill="#a5a5a5"/>
<path d="M570.0 281.5L578.9 271.9L585.1 264.2L591.5 254.7L596.6 245.4L600.1 247.2L595.0 256.7L588.3 266.6L582.0 274.5L572.8 284.3Z" fill="#a8a8a8"/>
<path d="M594.2 250.0L598.6 241.0L602.7 230.9L606.2 218.0L607.8 206.3L608.5 183.8L608.5 60.0L612.5 60.0L612.5 183.9L611.8 206.7L610.1 218.8L606.4 232.2L602.3 242.7L597.7 251.9Z" fill="#ababab"/>
</g>
</g>
<path d="M452.4 434.4L659.4 133.4" stroke="#fff" stroke-width="3" stroke-dasharray="9 3.5 2.5 3.5" fill="none"/>
<path d="M110.5 428.6L679.5 537.6L887.0 236.6M110.5 428.6L110.5 309.4M110.5 428.6L102.7 439.9M224.3 450.4L216.5 461.7M338.1 472.2L330.3 483.5M451.9 494.0L444.1 505.3M565.7 515.8L557.9 527.1M679.5 537.6L671.7 548.9M679.5 537.6L694.3 540.5M731.4 462.4L746.2 465.2M783.2 387.1L798.0 390.0M835.1 311.9L849.9 314.7M887.0 236.6L901.8 239.5M110.5 408.8L96.4 406.0M110.5 369.0L96.4 366.3M110.5 329.2L96.4 326.5" stroke="#262626" stroke-width="1.3" fill="none"/>
<text x="84.5" y="479.4" text-anchor="middle" fill="#262626" font-size="29" font-family="Liberation Sans, Arial, sans-serif">0</text>
<text x="181" y="501.9" text-anchor="middle" fill="#262626" font-size="29" font-family="Liberation Sans, Arial, sans-serif">500</text>
<text x="286.5" y="525.9" text-anchor="middle" fill="#262626" font-size="29" font-family="Liberation Sans, Arial, sans-serif">1000</text>
<text x="400.5" y="547.4" text-anchor="middle" fill="#262626" font-size="29" font-family="Liberation Sans, Arial, sans-serif">1500</text>
<text x="513.7" y="568.4" text-anchor="middle" fill="#262626" font-size="29" font-family="Liberation Sans, Arial, sans-serif">2000</text>
<text x="627.8" y="590.4" text-anchor="middle" fill="#262626" font-size="29" font-family="Liberation Sans, Arial, sans-serif">2500</text>
<text x="713.7" y="574.4" text-anchor="middle" fill="#262626" font-size="29" font-family="Liberation Sans, Arial, sans-serif">0</text>
<text x="779.8" y="498.79999999999995" text-anchor="middle" fill="#262626" font-size="29" font-family="Liberation Sans, Arial, sans-serif">0.5</text>
<text x="819.2" y="424.4" text-anchor="middle" fill="#262626" font-size="29" font-family="Liberation Sans, Arial, sans-serif">1</text>
<text x="883" y="348.79999999999995" text-anchor="middle" fill="#262626" font-size="29" font-family="Liberation Sans, Arial, sans-serif">1.5</text>
<text x="921.6" y="273.09999999999997" text-anchor="middle" fill="#262626" font-size="29" font-family="Liberation Sans, Arial, sans-serif">2</text>
<text x="81" y="338.9" text-anchor="end" fill="#262626" font-size="29" font-family="Liberation Sans, Arial, sans-serif">1</text>
<text x="82" y="378.9" text-anchor="end" fill="#262626" font-size="29" font-family="Liberation Sans, Arial, sans-serif">0</text>
<text x="82" y="417.9" text-anchor="end" fill="#262626" font-size="29" font-family="Liberation Sans, Arial, sans-serif">-1</text>
<text transform="translate(244 556) rotate(10.8)" fill="#262626" font-size="34" font-family="Liberation Sans, Arial, sans-serif">x  (nm)</text>
<text transform="translate(887 465) rotate(-55.4)" fill="#262626" font-size="34" font-family="Liberation Sans, Arial, sans-serif"><tspan font-style="italic">t</tspan>  (ns)</text>
<text x="33" y="378" fill="#262626" font-size="34" font-style="italic" font-family="Liberation Serif, serif">ρ</text>
<text transform="translate(708.5 119.8) rotate(10.5)" font-size="25.8" font-weight="bold" font-family="Liberation Sans, Arial, sans-serif" fill="#000">Potential step</text>
<text x="556" y="184.6" font-size="33" font-family="Liberation Serif, serif" fill="#000">Ψ<tspan font-size="25" dy="6.5">+</tspan></text>
<text x="385" y="357.5" font-size="32" font-family="Liberation Serif, serif" fill="#000">Ψ<tspan font-size="25" dy="6.5">+</tspan></text>
<text x="680.5" y="193.9" font-size="33" font-family="Liberation Serif, serif" fill="#fff">Ψ<tspan font-size="25" dy="6.5">−</tspan></text>
<text transform="translate(174.5 349.6) rotate(10.8)" textLength="106" lengthAdjust="spacingAndGlyphs" font-size="27" font-weight="bold" font-style="italic" font-family="Liberation Serif, serif" fill="#000">B<tspan font-size="20" dy="5">z</tspan><tspan dy="-5"> = 0 T</tspan></text>
<text transform="translate(556 425.5) rotate(10.3)" textLength="106" lengthAdjust="spacingAndGlyphs" font-size="27" font-weight="bold" font-family="Liberation Serif, serif" fill="#000"><tspan font-style="italic">B</tspan><tspan font-style="italic" font-size="20" dy="5">z</tspan><tspan dy="-5"> = 2 T</tspan></text>
<text x="14" y="53" font-size="46" font-weight="bold" font-family="Liberation Serif, serif" fill="#000">a</text>
<path d="M1435.9 127.8L1435.9 10.1M1551.1 149.7L1551.1 32.0M1666.3 171.5L1666.3 53.8M1781.5 193.4L1781.5 75.7M1896.7 215.2L1896.7 97.5M2011.9 237.1L2011.9 119.4M1435.9 106.4L2011.9 215.7M1435.9 85.0L2011.9 194.3M1435.9 63.6L2011.9 172.9M1435.9 42.2L2011.9 151.5M1435.9 20.8L2011.9 130.1M1280.3 353.3L1280.3 235.6M1332.2 278.1L1332.2 160.4M1384.0 202.9L1384.0 85.3M1228.4 407.0L1435.9 106.4M1228.4 385.6L1435.9 85.0M1228.4 364.2L1435.9 63.6M1228.4 342.8L1435.9 42.2M1228.4 321.4L1435.9 20.8M1343.6 450.3L1551.1 149.7M1458.8 472.1L1666.3 171.5M1574.0 494.0L1781.5 193.4M1689.2 515.8L1896.7 215.2M1804.4 537.7L2011.9 237.1M1280.3 353.3L1856.3 462.6M1332.2 278.1L1908.2 387.4M1384.0 202.9L1960.0 312.3M1435.9 127.8L2011.9 237.1" stroke="#dedede" stroke-width="1" fill="none"/>
<filter id="bB1" x="-30%" y="-30%" width="160%" height="160%"><feGaussianBlur stdDeviation="0.8"/></filter>
<filter id="bB2" x="-30%" y="-30%" width="160%" height="160%"><feGaussianBlur stdDeviation="1.6"/></filter>
<filter id="bB3" x="-30%" y="-30%" width="160%" height="160%"><feGaussianBlur stdDeviation="2.4"/></filter>
<filter id="bB4" x="-30%" y="-30%" width="160%" height="160%"><feGaussianBlur stdDeviation="3.2"/></filter>
<filter id="bB6" x="-30%" y="-30%" width="160%" height="160%"><feGaussianBlur stdDeviation="4.8"/></filter>
<clipPath id="bS"><path d="M1436.0 85.0L1700.0 134.3L1708.0 136.5L1716.0 141.0L1724.0 143.8L1740.0 145.0L1764.0 145.6L1765.5 120.0L1767.0 104.0L1768.7 98.5L1771.0 102.0L1775.0 112.0L1780.0 126.0L1786.0 135.5L1792.4 144.7L1805.0 143.5L1820.0 142.0L1835.0 140.5L1845.3 141.4L1852.0 143.0L1858.5 147.3L1865.0 154.0L1871.7 161.9L1880.0 166.0L1891.5 171.1L1898.0 172.4L2012.5 193.5L1804.4 494.9L1488.0 434.9L1476.0 436.1L1465.6 439.7L1455.0 439.7L1446.8 433.2L1435.0 426.0L1228.4 385.6Z"/></clipPath>
<path d="M1436.0 85.0L1700.0 134.3L1708.0 136.5L1716.0 141.0L1724.0 143.8L1740.0 145.0L1764.0 145.6L1765.5 120.0L1767.0 104.0L1768.7 98.5L1771.0 102.0L1775.0 112.0L1780.0 126.0L1786.0 135.5L1792.4 144.7L1805.0 143.5L1820.0 142.0L1835.0 140.5L1845.3 141.4L1852.0 143.0L1858.5 147.3L1865.0 154.0L1871.7 161.9L1880.0 166.0L1891.5 171.1L1898.0 172.4L2012.5 193.5L1804.4 494.9L1488.0 434.9L1476.0 436.1L1465.6 439.7L1455.0 439.7L1446.8 433.2L1435.0 426.0L1228.4 385.6Z" fill="#707a8e"/>
<g clip-path="url(#bS)">
<pattern id="bTex" patternUnits="userSpaceOnUse" width="3.1" height="6" patternTransform="rotate(-21)"><rect width="3.1" height="6" fill="#808a9c"/><rect width="1.2" height="6" fill="#5e687a"/></pattern>
<path d="M1574.0 451.2L1689.2 473.0L1896.7 172.4L1781.5 150.6Z" fill="url(#bTex)"/>
<path d="M1574.0 451.2L1689.2 473.0L1741.1 397.9L1742.0 392.0L1603.0 410.0L1599.9 413.6Z" fill="#707a8e"/>
<path d="M1603.0 410.0L1742.0 392.0L1662.0 326.0L1657.0 330.9Z" fill="#707a8e" opacity="0.6"/>
<clipPath id="bLft"><path d="M1200.0 528.8L1548.1 488.8L1807.5 113.0L1200.0 73.0Z"/></clipPath>
<g clip-path="url(#bLft)">
<linearGradient id="bL1a" gradientUnits="userSpaceOnUse" x1="1580.3" y1="403.4" x2="1597.5" y2="381.1"><stop offset="0.000" stop-color="#b0d0d0" stop-opacity="0"/><stop offset="0.043" stop-color="#b0d0d0"/><stop offset="0.096" stop-color="#d2ecea"/><stop offset="0.184" stop-color="#dcf2f0"/><stop offset="0.326" stop-color="#c4e0de"/><stop offset="0.468" stop-color="#aecccc"/><stop offset="0.610" stop-color="#a8c6c8" stop-opacity="0.9"/><stop offset="0.787" stop-color="#8ca4b0" stop-opacity="0.6"/><stop offset="1.000" stop-color="#8ca4b0" stop-opacity="0"/></linearGradient>
<linearGradient id="bL1am" gradientUnits="userSpaceOnUse" x1="1581.0" y1="402.5" x2="1356.5" y2="229.0"><stop offset="0" stop-color="#fff" stop-opacity="1"/><stop offset="0.000" stop-color="#fff"/><stop offset="0.295" stop-color="#fff"/><stop offset="1" stop-color="#fff" stop-opacity="0"/></linearGradient>
<mask id="bL1ak" maskUnits="userSpaceOnUse" x="0" y="0" width="2050" height="1212"><path d="M1580.3 403.4L1355.8 229.9L1373.0 207.6L1597.5 381.1Z" fill="url(#bL1am)"/></mask>
<path d="M1580.3 403.4L1355.8 229.9L1373.0 207.6L1597.5 381.1Z" fill="url(#bL1a)" mask="url(#bL1ak)"/>
<linearGradient id="bL1b" gradientUnits="userSpaceOnUse" x1="1365.1" y1="217.9" x2="1355.8" y2="229.9"><stop offset="0.000" stop-color="#7a8898" stop-opacity="0"/><stop offset="0.197" stop-color="#7a8898" stop-opacity="0.35"/><stop offset="0.362" stop-color="#90acb4" stop-opacity="0.75"/><stop offset="0.526" stop-color="#aacaca"/><stop offset="0.691" stop-color="#b4d4d4"/><stop offset="0.822" stop-color="#b0d0d0"/><stop offset="0.921" stop-color="#9cbcbe"/><stop offset="1.000" stop-color="#9cbcbe" stop-opacity="0"/></linearGradient>
<linearGradient id="bL1bm" gradientUnits="userSpaceOnUse" x1="1356.5" y1="229.0" x2="1581.0" y2="402.5"><stop offset="0" stop-color="#fff" stop-opacity="0"/><stop offset="0.025" stop-color="#fff"/><stop offset="0.577" stop-color="#fff"/><stop offset="1" stop-color="#fff" stop-opacity="0"/></linearGradient>
<mask id="bL1bk" maskUnits="userSpaceOnUse" x="0" y="0" width="2050" height="1212"><path d="M1365.1 217.9L1589.6 391.4L1580.3 403.4L1355.8 229.9Z" fill="url(#bL1bm)"/></mask>
<path d="M1365.1 217.9L1589.6 391.4L1580.3 403.4L1355.8 229.9Z" fill="url(#bL1b)" mask="url(#bL1bk)"/>
<linearGradient id="bL0" gradientUnits="userSpaceOnUse" x1="1591.1" y1="419.5" x2="1588.1" y2="398.7"><stop offset="0.000" stop-color="#b8d4d4" stop-opacity="0"/><stop offset="0.048" stop-color="#b8d4d4"/><stop offset="0.119" stop-color="#d2ecea"/><stop offset="0.238" stop-color="#cae6e4"/><stop offset="0.429" stop-color="#aecacc"/><stop offset="0.619" stop-color="#92aab4" stop-opacity="0.75"/><stop offset="0.810" stop-color="#7a8898" stop-opacity="0.35"/><stop offset="1.000" stop-color="#7a8898" stop-opacity="0"/></linearGradient>
<path d="M1591.1 419.5L1462.1 438.6L1459.1 417.8L1588.1 398.7Z" fill="url(#bL0)"/>
<path d="M1579 400.5L1597 398L1606 405.5L1596 416L1591 419.5L1585 410Z" fill="#c4e0de" filter="url(#bB1)"/>
</g>
<path d="M1436.0 425.0L1446.8 433.2L1455.0 439.7L1465.6 439.7L1476.0 436.1L1488.0 434.9L1478.0 428.0L1460.0 424.0L1445.0 421.0Z" fill="#b4d2d2" filter="url(#bB2)"/>
<path d="M1414.0 146.0L1656.0 330.0" stroke="#8a9cac" stroke-width="8" stroke-linecap="round" stroke-linejoin="round" fill="none" opacity="0.85" filter="url(#bB3)"/>
<path d="M1505.0 96.0L1710.0 252.0" stroke="#8a9cac" stroke-width="8" stroke-linecap="round" stroke-linejoin="round" fill="none" opacity="0.85" filter="url(#bB3)"/>
<path d="M1700.0 130.0L1762.0 172.0" stroke="#a2c0c4" stroke-width="10" stroke-linecap="round" stroke-linejoin="round" fill="none" opacity="0.9" filter="url(#bB3)"/>
<path d="M1752.0 392.5L1872.0 374.5" stroke="#8a9cab" stroke-width="5" stroke-linecap="round" stroke-linejoin="round" fill="none" opacity="0.85" filter="url(#bB2)"/>
<path d="M1803.0 314.0L1930.0 294.0" stroke="#94a8b4" stroke-width="5" stroke-linecap="round" stroke-linejoin="round" fill="none" opacity="0.95" filter="url(#bB2)"/>
<path d="M1857.0 236.0L1985.0 216.0" stroke="#a4bcc4" stroke-width="6" stroke-linecap="round" stroke-linejoin="round" fill="none" opacity="1.0" filter="url(#bB2)"/>
<path d="M1574.0 451.2L1781.5 150.6" stroke="#fff" stroke-width="2.2" stroke-dasharray="7 3 2 3" fill="none"/>
<path d="M1689.2 473.0L1896.7 172.4" stroke="#fff" stroke-width="2.2" stroke-dasharray="7 3 2 3" fill="none"/>
<path d="M1606.0 404.0L1670.0 395.0L1736.0 384.0" stroke="#4a4666" stroke-width="6" stroke-linecap="round" stroke-linejoin="round" fill="none" opacity="1.0" filter="url(#bB1)"/>
<path d="M1743.0 384.0L1700.0 352.0L1664.0 324.0" stroke="#56526f" stroke-width="9" stroke-linecap="round" stroke-linejoin="round" fill="none" opacity="1.0" filter="url(#bB2)"/>
<path d="M1744.0 386.0L1702.0 354.0L1666.0 326.0" stroke="#3a3650" stroke-width="3" stroke-linecap="round" stroke-linejoin="round" fill="none" opacity="1.0" filter="url(#bB1)"/>
<path d="M1668.0 320.0L1730.0 306.0L1792.0 296.0" stroke="#3a3650" stroke-width="7" stroke-linecap="round" stroke-linejoin="round" fill="none" opacity="1.0" filter="url(#bB2)"/>
<path d="M1668.0 318.0L1730.0 304.0L1792.0 294.0" stroke="#1c1828" stroke-width="2.5" stroke-linecap="round" stroke-linejoin="round" fill="none" opacity="1.0" filter="url(#bB1)"/>
<path d="M1797.0 296.0L1760.0 268.0L1722.0 244.0" stroke="#34304a" stroke-width="15" stroke-linecap="round" stroke-linejoin="round" fill="none" opacity="1.0" filter="url(#bB3)"/>
<path d="M1795.0 294.0L1758.0 266.0L1722.0 240.0" stroke="#16121e" stroke-width="6" stroke-linecap="round" stroke-linejoin="round" fill="none" opacity="1.0" filter="url(#bB2)"/>
<path d="M1724.0 240.0L1780.0 232.0L1838.0 224.0" stroke="#2e2a40" stroke-width="16" stroke-linecap="round" stroke-linejoin="round" fill="none" opacity="1.0" filter="url(#bB3)"/>
<path d="M1726.0 233.0L1780.0 226.0L1836.0 219.0" stroke="#0e0a14" stroke-width="4" stroke-linecap="round" stroke-linejoin="round" fill="none" opacity="1.0" filter="url(#bB1)"/>
<path d="M1846.0 210.0L1812.0 186.0L1782.0 164.0" stroke="#0c0a12" stroke-width="22" stroke-linecap="round" stroke-linejoin="round" fill="none" opacity="1.0" filter="url(#bB3)"/>
<linearGradient id="bPl" x1="0" y1="0" x2="0" y2="1"><stop offset="0" stop-color="#08060c"/><stop offset="0.6" stop-color="#141020"/><stop offset="1" stop-color="#3a3850" stop-opacity="0"/></linearGradient>
<path d="M1776.0 150.0L1786.0 135.5L1792.4 144.7L1845.3 141.4L1858.5 147.3L1871.7 161.9L1891.5 171.1L1898.0 172.4L1893.0 188.0L1868.0 184.0L1848.0 178.0L1820.0 180.0L1796.0 184.0Z" fill="url(#bPl)" filter="url(#bB1)"/>
<path d="M1786.0 135.5L1792.4 144.7L1845.3 141.4L1858.5 147.3L1871.7 161.9L1891.5 171.1L1898.0 172.4L1880.0 173.0L1860.0 162.0L1840.0 154.0L1800.0 157.0Z" fill="#07050a"/>
<linearGradient id="bLs" x1="0" y1="0" x2="1" y2="0"><stop offset="0" stop-color="#8fa4ae" stop-opacity="0"/><stop offset="0.6" stop-color="#a8c4c8"/><stop offset="1" stop-color="#90a8b0"/></linearGradient>
<path d="M1718.0 140.0L1764.0 145.0L1764.0 180.0L1750.0 172.0Z" fill="#8ea6b0" filter="url(#bB3)" opacity="0.8"/>
<path d="M1712.0 143.0L1760.0 177.0" stroke="#a6c4c6" stroke-width="9" stroke-linecap="butt" stroke-linejoin="round" fill="none" opacity="1.0" filter="url(#bB3)"/>
<linearGradient id="bSp" x1="0" y1="0" x2="0" y2="1"><stop offset="0" stop-color="#c4dede"/><stop offset="0.35" stop-color="#9cb4be"/><stop offset="0.55" stop-color="#4a4860"/><stop offset="0.75" stop-color="#18141f"/><stop offset="1" stop-color="#0c0a12"/></linearGradient>
<linearGradient id="bSp2" x1="0" y1="0" x2="0" y2="1"><stop offset="0" stop-color="#3a3650"/><stop offset="0.5" stop-color="#14101c"/><stop offset="1" stop-color="#0c0a12"/></linearGradient>
<path d="M1734.0 396.0L1736.0 389.6L1738.4 384.0L1740.8 382.0L1742.0 380.0L1743.5 382.0L1745.6 384.8L1748.0 390.4L1750.0 396.0Z" fill="url(#bSp2)" filter="url(#bB1)"/>
<path d="M1652.0 337.0L1654.2 326.6L1657.0 317.5L1659.8 313.0L1661.0 311.0L1662.5 313.0L1665.0 318.8L1667.8 327.9L1670.0 337.0Z" fill="url(#bSp2)" filter="url(#bB1)"/>
<path d="M1790.0 312.0L1792.2 302.0L1795.0 293.2L1797.8 289.0L1799.0 287.0L1800.5 289.0L1803.0 294.5L1805.8 303.2L1808.0 312.0Z" fill="url(#bSp2)" filter="url(#bB1)"/>
<path d="M1705.0 256.0L1707.8 239.2L1711.0 224.5L1714.8 216.0L1716.0 214.0L1717.5 216.0L1721.0 226.6L1724.2 241.3L1727.0 256.0Z" fill="url(#bSp)" filter="url(#bB1)"/>
<path d="M1841.0 240.0L1844.2 216.4L1848.2 195.8L1852.8 183.0L1854.0 181.0L1855.5 183.0L1858.5 198.7L1861.5 219.3L1864.0 240.0Z" fill="url(#bSp)" filter="url(#bB1)"/>
<path d="M1760.5 176.0L1762.8 145.0L1765.5 117.9L1768.3 100.5L1769.5 98.5L1771.0 100.5L1779.4 121.8L1786.0 148.9L1791.5 176.0Z" fill="url(#bSp)" filter="url(#bB1)"/>
<path d="M1765.5 112L1765 170M1768.5 104L1768.5 168M1771.5 106L1772 168M1775 114L1776.5 166M1779 122L1781 164M1783 130L1785 160" stroke="#1a1626" stroke-width="1" opacity="0.55"/>
</g>
<path d="M1228.4 428.4L1804.4 537.7L2011.9 237.1M1228.4 428.4L1228.4 310.7M1228.4 428.4L1220.6 439.7M1343.6 450.3L1335.8 461.5M1458.8 472.1L1451.0 483.4M1574.0 494.0L1566.2 505.3M1689.2 515.8L1681.4 527.1M1804.4 537.7L1796.6 549.0M1804.4 537.7L1818.2 540.3M1856.3 462.6L1870.1 465.2M1908.2 387.4L1922.0 390.0M1960.0 312.3L1973.9 314.9M2011.9 237.1L2025.7 239.7M1228.4 407.0L1215.0 404.5M1228.4 385.6L1215.0 383.1M1228.4 364.2L1215.0 361.7M1228.4 342.8L1215.0 340.3M1228.4 321.4L1215.0 318.9" stroke="#262626" stroke-width="1" fill="none"/>
<text x="1209.5" y="466.7" text-anchor="middle" fill="#262626" font-size="20" font-family="Liberation Sans, Arial, sans-serif">0</text>
<text x="1312.5" y="487.7" text-anchor="middle" fill="#262626" font-size="20" font-family="Liberation Sans, Arial, sans-serif">500</text>
<text x="1422.2" y="510.09999999999997" text-anchor="middle" fill="#262626" font-size="20" font-family="Liberation Sans, Arial, sans-serif">1000</text>
<text x="1537.7" y="532.0" text-anchor="middle" fill="#262626" font-size="20" font-family="Liberation Sans, Arial, sans-serif">1500</text>
<text x="1652.2" y="554.0" text-anchor="middle" fill="#262626" font-size="20" font-family="Liberation Sans, Arial, sans-serif">2000</text>
<text x="1767.4" y="575.6" text-anchor="middle" fill="#262626" font-size="20" font-family="Liberation Sans, Arial, sans-serif">2500</text>
<text x="1831.2" y="561.6" text-anchor="middle" fill="#262626" font-size="20" font-family="Liberation Sans, Arial, sans-serif">0</text>
<text x="1883" y="487.59999999999997" text-anchor="middle" fill="#262626" font-size="20" font-family="Liberation Sans, Arial, sans-serif">2</text>
<text x="1936.5" y="411.2" text-anchor="middle" fill="#262626" font-size="20" font-family="Liberation Sans, Arial, sans-serif">4</text>
<text x="1988.4" y="336.4" text-anchor="middle" fill="#262626" font-size="20" font-family="Liberation Sans, Arial, sans-serif">6</text>
<text x="2041" y="260.8" text-anchor="middle" fill="#262626" font-size="20" font-family="Liberation Sans, Arial, sans-serif">8</text>
<text x="1206.3" y="326.4" text-anchor="end" fill="#262626" font-size="19.5" font-family="Liberation Sans, Arial, sans-serif">6</text>
<text x="1206.3" y="348.9" text-anchor="end" fill="#262626" font-size="19.5" font-family="Liberation Sans, Arial, sans-serif">4</text>
<text x="1206.3" y="370.0" text-anchor="end" fill="#262626" font-size="19.5" font-family="Liberation Sans, Arial, sans-serif">2</text>
<text x="1206.3" y="390.8" text-anchor="end" fill="#262626" font-size="19.5" font-family="Liberation Sans, Arial, sans-serif">0</text>
<text x="1206.3" y="412.2" text-anchor="end" fill="#262626" font-size="19.5" font-family="Liberation Sans, Arial, sans-serif">-2</text>
<text x="1128" y="370.5" font-size="38" font-family="Liberation Serif, serif" fill="#000">−<tspan font-style="italic">ρ</tspan></text>
<text transform="translate(1408 558) rotate(10.5)" font-size="37" font-family="Liberation Serif, serif" fill="#000"><tspan font-style="italic">x</tspan> (nm)</text>
<text transform="translate(1966 449) rotate(-55.4)" font-size="37" font-family="Liberation Serif, serif" fill="#000"><tspan font-style="italic">t</tspan> (ns)</text>
<text transform="translate(1815 93.5) rotate(10)" font-size="25.6" font-weight="bold" font-family="Liberation Sans, Arial, sans-serif" fill="#000">Potential</text>
<text transform="translate(1816.5 125) rotate(10)" font-size="25.4" font-weight="bold" font-family="Liberation Sans, Arial, sans-serif" fill="#000">barrier</text>
<text transform="translate(1272.7 361.5) rotate(10.5)" textLength="106" lengthAdjust="spacingAndGlyphs" font-size="27" font-weight="bold" font-style="italic" font-family="Liberation Serif, serif" fill="#fff">B<tspan font-size="20" dy="5">z</tspan><tspan dy="-5"> = 0 T</tspan></text>
<text transform="translate(1602 425.5) rotate(10.5)" textLength="106" lengthAdjust="spacingAndGlyphs" font-size="27" font-weight="bold" font-family="Liberation Serif, serif" fill="#fff"><tspan font-style="italic">B</tspan><tspan font-style="italic" font-size="20" dy="5">z</tspan><tspan dy="-5"> = 2 T</tspan></text>
<text transform="translate(1723 448.5) rotate(10.5)" textLength="106" lengthAdjust="spacingAndGlyphs" font-size="27" font-weight="bold" font-family="Liberation Serif, serif" fill="#fff"><tspan font-style="italic">B</tspan><tspan font-style="italic" font-size="20" dy="5">z</tspan><tspan dy="-5"> = 0 T</tspan></text>
<text x="1484" y="398" font-size="30" font-family="Liberation Serif, serif" fill="#fff">Ψ<tspan font-size="22" dy="5">+</tspan></text>
<text x="1736" y="278.5" font-size="30" font-family="Liberation Serif, serif" fill="#fff">Ψ<tspan font-size="22" dy="2">−</tspan></text>
<text x="1871" y="280" font-size="30" font-family="Liberation Serif, serif" fill="#fff">Ψ<tspan font-size="22" dy="5">+</tspan></text>
<text x="1121" y="53" font-size="46" font-weight="bold" font-family="Liberation Serif, serif" fill="#000">b</text>
<rect x="168.5" y="677.5" width="670.0" height="435.0" fill="#b0c1e0"/>
<rect x="168.5" y="677.5" width="162.9" height="435.0" fill="#8c8c8c"/>
<rect x="168.5" y="677.5" width="120.4" height="435.0" fill="#e3aa96"/>
<path d="M198.5 677.5V1112.5M320.4 677.5V1112.5M442.3 677.5V1112.5M564.2 677.5V1112.5M686.1 677.5V1112.5M808.0 677.5V1112.5M168.5 1092.5H838.5M168.5 1027.0H838.5M168.5 961.5H838.5M168.5 896.0H838.5M168.5 830.5H838.5M168.5 765.0H838.5M168.5 699.5H838.5" stroke="#000" stroke-opacity="0.22" stroke-width="1.6" fill="none"/>
<clipPath id="cR"><rect x="168.5" y="677.5" width="120.4" height="435.0"/></clipPath>
<clipPath id="cG"><rect x="288.9" y="677.5" width="42.4" height="435.0"/></clipPath>
<clipPath id="cB"><rect x="331.4" y="677.5" width="507.1" height="435.0"/></clipPath>
<g clip-path="url(#cR)"><path d="M198.5 1092.5L213.4 1092.3L218.8 1091.8L224.3 1091.0L228.3 1089.9L232.4 1088.4L235.8 1086.7L239.2 1084.5L243.2 1081.3L246.6 1078.0L250.0 1073.9L252.7 1070.0L256.1 1064.3L259.5 1057.7L262.9 1050.2L265.6 1043.4L268.3 1034.8L270.4 1025.4L272.4 1012.2L273.8 1001.0L276.5 972.8L285.3 865.6L287.3 846.0L288.0 841.3L289.3 835.0L290.0 833.2L290.7 832.0L291.4 831.3L292.7 830.7" stroke="#7c6796" stroke-width="2.7" fill="none"/><path d="M198.5 697.4L214.8 697.8L220.2 698.2L224.3 698.7L228.3 699.7L232.4 701.1L236.5 702.8L239.9 704.6L243.9 707.4L248.0 710.7L250.7 713.4L253.4 716.9L255.4 720.2L258.2 725.6L260.9 731.8L262.9 737.0L264.9 743.2L266.3 748.1L269.0 760.3L271.0 772.5L273.1 788.3L274.4 801.4L276.5 825.0L283.2 914.3L284.6 928.9L286.0 940.9L287.3 949.7L288.7 955.0L289.3 956.6L290.0 957.6L291.4 958.6L292.7 958.8" stroke="#e02a22" stroke-width="2.7" fill="none"/></g>
<g clip-path="url(#cG)"><path d="M285.3 865.6L286.6 851.7L288.0 841.3L289.3 835.0L290.0 833.2L290.7 832.0L291.4 831.3L292.7 830.7L294.1 830.5L327.3 830.5L330.0 830.2L331.4 829.1L332.1 828.0L332.7 826.4L334.1 820.8L334.8 816.9" stroke="#3c4e80" stroke-width="2.7" fill="none"/><path d="M285.3 935.3L287.3 949.7L288.7 955.0L289.3 956.6L290.0 957.6L291.4 958.6L293.4 958.9L325.3 958.9L326.6 958.9L328.0 959.2L329.3 960.2L330.0 961.2L331.4 964.3L333.4 972.4L334.8 980.5" stroke="#8a3434" stroke-width="2.7" fill="none"/></g>
<g clip-path="url(#cB)"><path d="M328.0 830.5L329.3 830.4L330.7 829.8L331.4 829.1L332.1 828.0L333.4 824.0L334.8 816.9L336.1 806.9L339.5 778.3L344.3 735.3L345.6 725.5L347.7 715.2L349.7 708.8L351.0 705.8L353.1 702.4L355.1 699.9L356.5 698.8L357.8 698.1L359.2 697.9L361.9 698.5L364.6 699.6L367.3 701.2L370.0 703.3L373.4 707.0L382.9 719.1L391.7 729.1L397.1 734.8L401.9 739.1L408.0 744.1L414.1 748.7L420.2 752.7L426.3 756.3L432.4 759.4L452.7 768.8L462.2 772.9L469.7 775.8L481.2 779.8L490.0 782.6L497.5 784.7L503.6 786.1L511.7 787.6L530.7 790.5L608.0 800.3L623.6 802.0L643.9 804.0L676.5 806.8L709.0 808.9L761.2 811.5L808.0 813.4" stroke="#3d6fc4" stroke-width="2.7" fill="none"/><path d="M328.0 959.2L329.3 960.2L330.0 961.2L331.4 964.3L333.4 972.4L334.8 980.5L336.8 997.2L340.2 1031.4L342.2 1049.7L344.3 1064.2L345.6 1071.3L347.0 1076.8L348.3 1080.9L349.7 1084.2L351.0 1086.8L353.1 1089.6L355.1 1091.6L357.1 1092.9L359.2 1093.4L361.2 1092.8L363.9 1091.0L376.1 1079.1L392.4 1064.1L409.4 1048.0L420.2 1038.6L424.3 1035.5L429.0 1032.2L435.1 1028.3L440.5 1025.3L448.7 1021.3L456.8 1017.7L464.3 1014.7L472.4 1011.7L480.5 1009.0L490.0 1006.3L501.6 1003.2L514.4 1000.2L530.0 996.9L544.3 994.2L559.9 991.5L580.2 988.4L599.2 985.8L616.1 983.6L642.6 980.8L675.1 978.1L699.5 976.3L753.1 972.8L808.0 968.6" stroke="#c9636c" stroke-width="2.7" fill="none"/></g>
<path d="M264 1031.7H209" stroke="#4472c4" stroke-width="4.6"/><path d="M199 1031.7L213.5 1024.5V1039Z" fill="#4472c4"/>
<path d="M437.6 1031.6H491" stroke="#c00000" stroke-width="4.6"/><path d="M503 1031.6L488.5 1024.5V1039Z" fill="#c00000"/>
<rect x="168.5" y="677.5" width="670.0" height="435.0" fill="none" stroke="#1a1a1a" stroke-width="2"/>
<path d="M161.0 1092.5H168.5M838.5 1092.5H846.0M161.0 1027.0H168.5M838.5 1027.0H846.0M161.0 961.5H168.5M838.5 961.5H846.0M161.0 896.0H168.5M838.5 896.0H846.0M161.0 830.5H168.5M838.5 830.5H846.0M161.0 765.0H168.5M838.5 765.0H846.0M161.0 699.5H168.5M838.5 699.5H846.0M198.5 1112.5V1120.0M320.4 1112.5V1120.0M442.3 1112.5V1120.0M564.2 1112.5V1120.0M686.1 1112.5V1120.0M808.0 1112.5V1120.0" stroke="#1a1a1a" stroke-width="2"/>
<text x="153.5" y="1103.5" text-anchor="end" fill="#4169e1" font-size="30" font-family="DejaVu Sans, sans-serif">0.00</text>
<text x="852.5" y="710.5" fill="#ff0000" font-size="30" font-family="DejaVu Sans, sans-serif">1.00</text>
<text x="153.5" y="1038.0" text-anchor="end" fill="#4169e1" font-size="30" font-family="DejaVu Sans, sans-serif">0.25</text>
<text x="852.5" y="776.0" fill="#ff0000" font-size="30" font-family="DejaVu Sans, sans-serif">0.75</text>
<text x="153.5" y="972.5" text-anchor="end" fill="#4169e1" font-size="30" font-family="DejaVu Sans, sans-serif">0.50</text>
<text x="852.5" y="841.5" fill="#ff0000" font-size="30" font-family="DejaVu Sans, sans-serif">0.50</text>
<text x="153.5" y="907.0" text-anchor="end" fill="#4169e1" font-size="30" font-family="DejaVu Sans, sans-serif">0.75</text>
<text x="852.5" y="907.0" fill="#ff0000" font-size="30" font-family="DejaVu Sans, sans-serif">0.25</text>
<text x="153.5" y="841.5" text-anchor="end" fill="#4169e1" font-size="30" font-family="DejaVu Sans, sans-serif">1.00</text>
<text x="852.5" y="972.5" fill="#ff0000" font-size="30" font-family="DejaVu Sans, sans-serif">0.00</text>
<text x="153.5" y="776.0" text-anchor="end" fill="#4169e1" font-size="30" font-family="DejaVu Sans, sans-serif">1.25</text>
<text x="852.5" y="1038.0" fill="#ff0000" font-size="30" font-family="DejaVu Sans, sans-serif">−0.25</text>
<text x="153.5" y="710.5" text-anchor="end" fill="#4169e1" font-size="30" font-family="DejaVu Sans, sans-serif">1.50</text>
<text x="852.5" y="1103.5" fill="#ff0000" font-size="30" font-family="DejaVu Sans, sans-serif">−0.50</text>
<text x="198.5" y="1151" text-anchor="middle" fill="#000" font-size="30" font-family="DejaVu Sans, sans-serif">0</text>
<text x="320.4" y="1151" text-anchor="middle" fill="#000" font-size="30" font-family="DejaVu Sans, sans-serif">1</text>
<text x="442.3" y="1151" text-anchor="middle" fill="#000" font-size="30" font-family="DejaVu Sans, sans-serif">2</text>
<text x="564.2" y="1151" text-anchor="middle" fill="#000" font-size="30" font-family="DejaVu Sans, sans-serif">3</text>
<text x="686.1" y="1151" text-anchor="middle" fill="#000" font-size="30" font-family="DejaVu Sans, sans-serif">4</text>
<text x="808.0" y="1151" text-anchor="middle" fill="#000" font-size="30" font-family="DejaVu Sans, sans-serif">5</text>
<text x="52" y="896.5" fill="#1f77b4" font-size="41" font-style="italic" font-family="Liberation Serif, serif">R</text>
<text x="940" y="896.5" fill="#c00000" font-size="41" font-style="italic" font-family="Liberation Serif, serif">T</text>
<text x="459" y="1200.5" textLength="104" lengthAdjust="spacingAndGlyphs" fill="#000" font-size="40" font-family="Liberation Serif, serif"><tspan font-style="italic">B</tspan><tspan font-style="italic" font-size="30" dy="7">z</tspan><tspan dy="-7"> (T)</tspan></text>
<text x="401" y="665.5" textLength="237" lengthAdjust="spacingAndGlyphs" fill="#000" font-size="37" font-family="Liberation Serif, serif"><tspan font-style="italic">k</tspan><tspan font-size="27" dy="7">0</tspan><tspan dy="-7"> = 500 </tspan><tspan font-style="italic">μm</tspan><tspan font-size="27" dy="-15">−1</tspan></text>
<text transform="translate(240 951) rotate(-90)" x="0" y="0" textLength="157.5" lengthAdjust="spacingAndGlyphs" font-size="29" font-weight="bold" font-family="Liberation Serif, serif" fill="#000">B<tspan font-size="21" dy="5">z</tspan><tspan dy="-5"> &lt; (E − m)</tspan></text>
<text transform="translate(319 1036) rotate(-90)" x="0" y="0" textLength="290.0" lengthAdjust="spacingAndGlyphs" font-size="29" font-weight="bold" font-family="Liberation Serif, serif" fill="#000">(E − m) &lt; B<tspan font-size="21" dy="5">z</tspan><tspan dy="-5"> &lt; (E + m)</tspan></text>
<text transform="translate(410 953.5) rotate(-90)" x="0" y="0" textLength="160.0" lengthAdjust="spacingAndGlyphs" font-size="29" font-weight="bold" font-family="Liberation Serif, serif" fill="#000">B<tspan font-size="21" dy="5">z</tspan><tspan dy="-5"> &gt; (E + m)</tspan></text>
<text x="-1" y="643" font-size="46" font-weight="bold" font-family="Liberation Serif, serif" fill="#000">c</text>
<path d="M1333.3 673.5V806.0M1491.5 673.5V806.0M1649.7 673.5V806.0M1807.9 673.5V806.0M1966.1 673.5V806.0M1301.5 697.4H1997M1301.5 752.4H1997" stroke="#b0b0b0" stroke-width="1.6" fill="none"/>
<path d="M1333.3 697.4L1347.2 704.2L1361.2 710.1L1371.3 713.8L1389.1 719.5L1401.8 724.7L1405.6 726.0L1408.1 726.6L1411.9 727.1L1413.2 727.1L1415.7 726.6L1430.9 720.5L1433.5 719.7L1436.0 719.4L1441.1 719.8L1447.4 721.2L1463.9 726.1L1482.9 733.1L1490.5 735.5L1504.5 738.9L1532.4 744.3L1543.8 746.8L1550.2 748.7L1564.1 753.4L1570.4 755.0L1575.5 755.8L1578.1 755.9L1580.6 755.8L1598.3 751.7L1602.1 751.3L1607.2 751.5L1612.3 752.1L1618.6 753.2L1638.9 758.0L1657.9 762.0L1663.0 763.5L1666.8 765.0L1670.6 767.0L1673.2 768.7L1674.4 769.9L1677.0 772.7L1683.3 780.9L1690.9 789.6L1694.7 793.3L1697.3 795.1L1703.6 797.4L1707.4 798.4L1709.9 798.8L1722.6 799.6L1735.3 799.9L1737.8 799.7L1739.1 799.4L1741.6 798.2L1744.2 796.7L1749.2 793.1L1750.5 791.8L1753.1 788.4L1760.7 775.3L1763.2 771.6L1764.5 770.1L1765.7 769.0L1768.3 767.6L1770.8 766.6L1773.3 766.1L1778.4 766.2L1784.8 766.9L1806.3 770.9L1827.9 773.7L1836.8 775.1L1840.6 775.9L1843.1 776.6L1857.0 781.7L1862.1 782.7L1878.6 784.1L1886.2 784.4L1893.8 784.5L1897.6 783.8L1901.4 782.3L1902.7 781.6L1904.0 780.5L1905.2 778.5L1914.1 758.0L1916.6 751.4L1917.9 747.4L1919.2 742.4L1925.5 711.6L1928.1 701.1L1929.3 697.2L1933.1 688.7L1935.7 683.8L1936.9 681.9L1938.2 680.4L1939.5 679.4L1940.7 679.0L1945.8 679.5L1950.9 680.5L1954.7 682.1L1958.5 684.3L1962.3 687.0L1966.1 690.2" stroke="#4169e1" stroke-width="2.8" fill="none" stroke-linejoin="round"/>
<rect x="1301.5" y="673.5" width="695.5" height="132.5" fill="none" stroke="#000" stroke-width="2"/>
<text x="1287" y="708.9" text-anchor="end" fill="#000" font-size="31.5" font-family="DejaVu Sans, sans-serif">1.0</text>
<text x="1287" y="763.9" text-anchor="end" fill="#000" font-size="31.5" font-family="DejaVu Sans, sans-serif">0.5</text>
<path d="M1294.0 697.4H1301.5M1294.0 752.4H1301.5M1333.3 806.0V813.5M1491.5 806.0V813.5M1649.7 806.0V813.5M1807.9 806.0V813.5M1966.1 806.0V813.5" stroke="#000" stroke-width="2"/>
<path d="M1333.3 832.6V966.2M1491.5 832.6V966.2M1649.7 832.6V966.2M1807.9 832.6V966.2M1966.1 832.6V966.2M1301.5 838.6H1997M1301.5 885.1H1997M1301.5 931.6H1997" stroke="#b0b0b0" stroke-width="1.6" fill="none"/>
<path d="M1333.3 838.6L1413.2 838.6L1418.3 839.3L1428.4 841.7L1432.2 842.4L1455.0 843.1L1491.8 843.4L1571.7 843.1L1578.1 843.7L1590.7 846.3L1597.1 847.2L1616.1 848.4L1646.5 849.6L1655.4 850.1L1680.8 852.5L1717.5 855.4L1727.7 856.5L1737.8 858.0L1741.6 859.0L1749.2 861.7L1753.1 863.4L1761.9 867.8L1765.7 869.3L1768.3 870.1L1774.6 871.6L1781.0 872.9L1825.3 880.6L1840.6 883.7L1852.0 886.7L1876.1 894.3L1890.0 898.3L1895.1 900.0L1900.2 902.1L1904.0 904.0L1906.5 905.8L1910.3 909.0L1912.8 911.7L1916.6 917.3L1924.3 931.1L1926.8 935.2L1929.3 938.6L1933.1 942.4L1938.2 946.3L1945.8 951.1L1950.9 954.0L1954.7 955.9L1958.5 957.6L1962.3 958.9L1966.1 959.9" stroke="#4169e1" stroke-width="2.8" fill="none" stroke-linejoin="round"/>
<rect x="1301.5" y="832.6" width="695.5" height="133.6" fill="none" stroke="#000" stroke-width="2"/>
<text x="1287" y="850.1" text-anchor="end" fill="#000" font-size="31.5" font-family="DejaVu Sans, sans-serif">0</text>
<text x="1287" y="896.6" text-anchor="end" fill="#000" font-size="31.5" font-family="DejaVu Sans, sans-serif">-2.5</text>
<text x="1287" y="943.1" text-anchor="end" fill="#000" font-size="31.5" font-family="DejaVu Sans, sans-serif">-5</text>
<path d="M1294.0 838.6H1301.5M1294.0 885.1H1301.5M1294.0 931.6H1301.5M1333.3 966.2V973.7M1491.5 966.2V973.7M1649.7 966.2V973.7M1807.9 966.2V973.7M1966.1 966.2V973.7" stroke="#000" stroke-width="2"/>
<path d="M1333.3 992.6V1125.3M1491.5 992.6V1125.3M1649.7 992.6V1125.3M1807.9 992.6V1125.3M1966.1 992.6V1125.3M1301.5 1013.0H1997M1301.5 1066.0H1997M1301.5 1119.0H1997" stroke="#b0b0b0" stroke-width="1.6" fill="none"/>
<path d="M1333.3 1119.0L1493.1 1118.9L1498.2 1118.2L1500.7 1117.5L1503.2 1115.6L1508.3 1110.6L1510.8 1108.8L1512.1 1108.4L1517.2 1107.5L1521.0 1107.1L1524.8 1106.9L1536.2 1107.0L1547.6 1107.4L1559.0 1108.1L1570.4 1109.1L1574.2 1110.2L1581.9 1113.5L1592.0 1117.1L1595.8 1118.0L1599.6 1118.4L1609.8 1119.0L1649.1 1119.0L1652.9 1118.8L1656.7 1118.1L1659.2 1117.3L1660.5 1116.6L1663.0 1114.5L1664.3 1113.4L1665.6 1111.8L1668.1 1107.2L1675.7 1090.1L1678.2 1086.1L1679.5 1084.8L1684.6 1081.9L1688.4 1080.5L1690.9 1080.2L1701.1 1080.7L1712.5 1082.2L1725.2 1084.9L1734.0 1087.3L1736.6 1088.3L1739.1 1089.6L1741.6 1091.3L1745.4 1094.3L1746.7 1095.5L1749.2 1098.7L1756.9 1109.9L1759.4 1112.9L1760.7 1114.1L1761.9 1115.0L1763.2 1115.5L1768.3 1117.3L1773.3 1118.6L1777.1 1119.0L1808.9 1119.0L1812.7 1118.7L1816.5 1118.0L1819.0 1116.9L1820.3 1116.1L1822.8 1113.9L1825.3 1111.1L1826.6 1109.3L1827.9 1106.4L1829.1 1102.4L1831.7 1091.8L1838.0 1060.5L1843.1 1029.6L1845.6 1016.5L1846.9 1012.2L1849.4 1007.2L1852.0 1003.1L1854.5 1000.0L1855.8 999.0L1857.0 998.3L1858.3 998.0L1862.1 998.2L1867.2 999.5L1871.0 1000.9L1876.1 1003.4L1882.4 1007.2L1896.4 1016.3L1900.2 1019.4L1902.7 1022.4L1905.2 1026.9L1907.8 1032.9L1910.3 1040.1L1916.6 1059.9L1919.2 1068.5L1925.5 1094.7L1928.1 1102.8L1929.3 1105.6L1930.6 1107.6L1933.1 1111.2L1935.7 1114.3L1938.2 1116.8L1939.5 1117.8L1940.7 1118.4L1942.0 1118.9L1943.3 1119.0L1966.1 1119.0" stroke="#4169e1" stroke-width="2.8" fill="none" stroke-linejoin="round"/>
<rect x="1301.5" y="992.6" width="695.5" height="132.7" fill="none" stroke="#000" stroke-width="2"/>
<text x="1287" y="1024.5" text-anchor="end" fill="#000" font-size="31.5" font-family="DejaVu Sans, sans-serif">0.5</text>
<text x="1287" y="1077.5" text-anchor="end" fill="#000" font-size="31.5" font-family="DejaVu Sans, sans-serif">0.25</text>
<text x="1287" y="1130.5" text-anchor="end" fill="#000" font-size="31.5" font-family="DejaVu Sans, sans-serif">0</text>
<path d="M1294.0 1013.0H1301.5M1294.0 1066.0H1301.5M1294.0 1119.0H1301.5M1333.3 1125.3V1132.8M1491.5 1125.3V1132.8M1649.7 1125.3V1132.8M1807.9 1125.3V1132.8M1966.1 1125.3V1132.8" stroke="#000" stroke-width="2"/>
<text x="1333.3" y="1164.5" text-anchor="middle" fill="#000" font-size="32" font-family="DejaVu Sans, sans-serif">0</text>
<text x="1491.5" y="1164.5" text-anchor="middle" fill="#000" font-size="32" font-family="DejaVu Sans, sans-serif">2</text>
<text x="1649.7" y="1164.5" text-anchor="middle" fill="#000" font-size="32" font-family="DejaVu Sans, sans-serif">4</text>
<text x="1807.9" y="1164.5" text-anchor="middle" fill="#000" font-size="32" font-family="DejaVu Sans, sans-serif">6</text>
<text x="1966.1" y="1164.5" text-anchor="middle" fill="#000" font-size="32" font-family="DejaVu Sans, sans-serif">8</text>
<text x="1648" y="1207.5" text-anchor="middle" fill="#000" font-size="37.4" font-family="DejaVu Sans, sans-serif">t (ns)</text>
<text x="1175" y="893" fill="#000" font-size="39" font-family="Liberation Serif, serif"><tspan font-style="italic">N</tspan><tspan font-style="italic" font-size="29" dy="7">z</tspan></text>
<text x="1588" y="661" textLength="157" lengthAdjust="spacingAndGlyphs" fill="#000" font-size="37" font-family="Liberation Serif, serif"><tspan font-style="italic">α</tspan> = 0.001</text>
<text x="1340" y="784.5" textLength="147" lengthAdjust="spacingAndGlyphs" fill="#000" font-size="36" font-family="Liberation Serif, serif"><tspan font-style="italic">x</tspan> &lt; 1500</text>
<text x="1334" y="943.6" textLength="274" lengthAdjust="spacingAndGlyphs" fill="#000" font-size="36" font-family="Liberation Serif, serif">1500 &lt; <tspan font-style="italic">x</tspan> &lt; 2000</text>
<text x="1338" y="1079.6" textLength="146" lengthAdjust="spacingAndGlyphs" fill="#000" font-size="36" font-family="Liberation Serif, serif"><tspan font-style="italic">x</tspan> &gt; 2000</text>
<text x="1121" y="651" font-size="46" font-weight="bold" font-family="Liberation Serif, serif" fill="#000">d</text>
</svg></body></html>
